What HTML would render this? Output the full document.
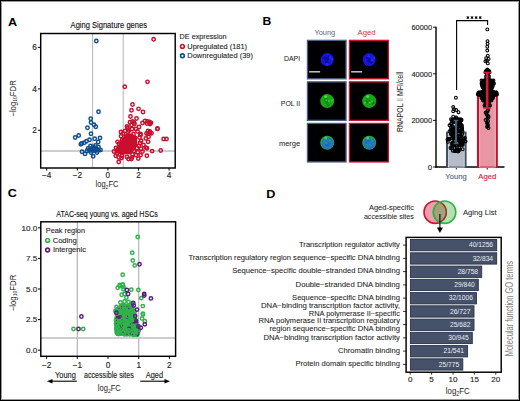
<!DOCTYPE html>
<html><head><meta charset="utf-8"><style>
html,body{margin:0;padding:0;background:#fff;}
body{width:520px;height:401px;overflow:hidden;position:relative;}
svg{position:absolute;left:0;top:0;font-family:"Liberation Sans", sans-serif;}
</style></head><body>
<svg width="520" height="401" viewBox="0 0 520 401">
<defs>
<radialGradient id="gBlue"><stop offset="0" stop-color="#2a3fe0"/><stop offset="0.7" stop-color="#1f2fd8"/><stop offset="1" stop-color="#0a10a0"/></radialGradient>
<radialGradient id="gGreen"><stop offset="0" stop-color="#25b825"/><stop offset="0.75" stop-color="#1fae1f"/><stop offset="1" stop-color="#0c7a0c"/></radialGradient>
<radialGradient id="gMerge"><stop offset="0" stop-color="#2a7fb0"/><stop offset="0.6" stop-color="#3590a0"/><stop offset="1" stop-color="#1a9a40"/></radialGradient>
<filter id="nb" x="-50%" y="-50%" width="200%" height="200%"><feGaussianBlur stdDeviation="0.75"/></filter>
<clipPath id="vclip2"><circle cx="444.6" cy="212.2" r="10.4"/></clipPath>
</defs>
<rect x="0" y="0" width="520" height="401" fill="#fff"/>
<text transform="translate(8.0,26.3) scale(1.15,1)" font-size="11.0" font-weight="bold" fill="#000">A</text>
<text transform="translate(262.4,24.6) scale(1.15,1)" font-size="10.6" font-weight="bold" fill="#000">B</text>
<text transform="translate(7.7,197.4) scale(1.15,1)" font-size="11.0" font-weight="bold" fill="#000">C</text>
<text transform="translate(266.2,198.2) scale(1.15,1)" font-size="11.0" font-weight="bold" fill="#000">D</text>
<text x="108.8" y="28.3" font-size="9.4" text-anchor="middle" fill="#111" font-weight="normal" stroke="#111" stroke-width="0.14" textLength="76.4" lengthAdjust="spacingAndGlyphs">Aging Signature genes</text>
<line x1="92.6" y1="33.5" x2="92.6" y2="168.0" stroke="#b4b4b8" stroke-width="1"/>
<line x1="123.2" y1="33.5" x2="123.2" y2="168.0" stroke="#b4b4b8" stroke-width="1"/>
<line x1="40.7" y1="151.0" x2="175.2" y2="151.0" stroke="#bdbdbd" stroke-width="1.7"/>
<path d="M86,150 L89,147.5 L92.5,144.5 L96,145.5 L99.5,148 L101.5,150.5 L99,152.5 L94,153 L88.5,152.5 Z" fill="#104d8c"/>
<circle cx="96.3" cy="41.0" r="1.7" fill="none" stroke="#104d8c" stroke-width="1.45"/>
<circle cx="98.5" cy="111.7" r="1.7" fill="none" stroke="#104d8c" stroke-width="1.45"/>
<circle cx="90.7" cy="118.7" r="1.7" fill="none" stroke="#104d8c" stroke-width="1.45"/>
<circle cx="91.0" cy="122.5" r="1.7" fill="none" stroke="#104d8c" stroke-width="1.45"/>
<circle cx="94.0" cy="124.7" r="1.7" fill="none" stroke="#104d8c" stroke-width="1.45"/>
<circle cx="95.8" cy="126.7" r="1.7" fill="none" stroke="#104d8c" stroke-width="1.45"/>
<circle cx="87.5" cy="127.7" r="1.7" fill="none" stroke="#104d8c" stroke-width="1.45"/>
<circle cx="91.0" cy="133.7" r="1.7" fill="none" stroke="#104d8c" stroke-width="1.45"/>
<circle cx="78.7" cy="135.5" r="1.7" fill="none" stroke="#104d8c" stroke-width="1.45"/>
<circle cx="75.2" cy="137.5" r="1.7" fill="none" stroke="#104d8c" stroke-width="1.45"/>
<circle cx="94.7" cy="138.7" r="1.7" fill="none" stroke="#104d8c" stroke-width="1.45"/>
<circle cx="100.0" cy="137.9" r="1.7" fill="none" stroke="#104d8c" stroke-width="1.45"/>
<circle cx="89.5" cy="139.7" r="1.7" fill="none" stroke="#104d8c" stroke-width="1.45"/>
<circle cx="86.5" cy="141.2" r="1.7" fill="none" stroke="#104d8c" stroke-width="1.45"/>
<circle cx="84.2" cy="142.7" r="1.7" fill="none" stroke="#104d8c" stroke-width="1.45"/>
<circle cx="81.7" cy="143.4" r="1.7" fill="none" stroke="#104d8c" stroke-width="1.45"/>
<circle cx="80.8" cy="144.2" r="1.7" fill="none" stroke="#104d8c" stroke-width="1.45"/>
<circle cx="98.2" cy="142.0" r="1.7" fill="none" stroke="#104d8c" stroke-width="1.45"/>
<circle cx="82.0" cy="151.7" r="1.7" fill="none" stroke="#104d8c" stroke-width="1.45"/>
<circle cx="85.0" cy="153.9" r="1.7" fill="none" stroke="#104d8c" stroke-width="1.45"/>
<circle cx="93.2" cy="156.2" r="1.7" fill="none" stroke="#104d8c" stroke-width="1.45"/>
<circle cx="88.0" cy="148.5" r="1.7" fill="none" stroke="#104d8c" stroke-width="1.45"/>
<circle cx="90.5" cy="146.0" r="1.7" fill="none" stroke="#104d8c" stroke-width="1.45"/>
<circle cx="95.5" cy="145.5" r="1.7" fill="none" stroke="#104d8c" stroke-width="1.45"/>
<circle cx="98.5" cy="147.0" r="1.7" fill="none" stroke="#104d8c" stroke-width="1.45"/>
<circle cx="100.5" cy="150.0" r="1.7" fill="none" stroke="#104d8c" stroke-width="1.45"/>
<circle cx="97.0" cy="152.5" r="1.7" fill="none" stroke="#104d8c" stroke-width="1.45"/>
<circle cx="91.0" cy="152.5" r="1.7" fill="none" stroke="#104d8c" stroke-width="1.45"/>
<circle cx="87.0" cy="151.0" r="1.7" fill="none" stroke="#104d8c" stroke-width="1.45"/>
<circle cx="93.0" cy="148.5" r="1.7" fill="none" stroke="#104d8c" stroke-width="1.45"/>
<circle cx="95.5" cy="149.5" r="1.7" fill="none" stroke="#104d8c" stroke-width="1.45"/>
<circle cx="89.5" cy="150.0" r="1.7" fill="none" stroke="#104d8c" stroke-width="1.45"/>
<path d="M114,150.5 L117.8,145.5 L121,140 L124.3,135.8 L127.5,133.8 L131.8,134 L135.6,135.3 L137.2,140 L137.2,145 L135,149.5 L132.3,152.6 L128.7,154.2 L125,154.6 L119.3,154.2 L115.3,152.8 Z" fill="#c8102e"/>
<circle cx="153.6" cy="39.2" r="1.7" fill="none" stroke="#c8102e" stroke-width="1.45"/>
<circle cx="147.5" cy="81.8" r="1.7" fill="none" stroke="#c8102e" stroke-width="1.45"/>
<circle cx="124.8" cy="86.7" r="1.7" fill="none" stroke="#c8102e" stroke-width="1.45"/>
<circle cx="132.5" cy="104.5" r="1.7" fill="none" stroke="#c8102e" stroke-width="1.45"/>
<circle cx="138.5" cy="108.8" r="1.7" fill="none" stroke="#c8102e" stroke-width="1.45"/>
<circle cx="131.5" cy="110.2" r="1.7" fill="none" stroke="#c8102e" stroke-width="1.45"/>
<circle cx="143.0" cy="112.0" r="1.7" fill="none" stroke="#c8102e" stroke-width="1.45"/>
<circle cx="130.5" cy="116.5" r="1.7" fill="none" stroke="#c8102e" stroke-width="1.45"/>
<circle cx="136.5" cy="118.5" r="1.7" fill="none" stroke="#c8102e" stroke-width="1.45"/>
<circle cx="130.0" cy="122.2" r="1.7" fill="none" stroke="#c8102e" stroke-width="1.45"/>
<circle cx="132.5" cy="121.5" r="1.7" fill="none" stroke="#c8102e" stroke-width="1.45"/>
<circle cx="134.0" cy="122.5" r="1.7" fill="none" stroke="#c8102e" stroke-width="1.45"/>
<circle cx="131.5" cy="125.0" r="1.7" fill="none" stroke="#c8102e" stroke-width="1.45"/>
<circle cx="134.5" cy="124.0" r="1.7" fill="none" stroke="#c8102e" stroke-width="1.45"/>
<circle cx="142.5" cy="123.0" r="1.7" fill="none" stroke="#c8102e" stroke-width="1.45"/>
<circle cx="145.0" cy="121.0" r="1.7" fill="none" stroke="#c8102e" stroke-width="1.45"/>
<circle cx="147.5" cy="121.5" r="1.7" fill="none" stroke="#c8102e" stroke-width="1.45"/>
<circle cx="149.5" cy="122.0" r="1.7" fill="none" stroke="#c8102e" stroke-width="1.45"/>
<circle cx="151.0" cy="122.8" r="1.7" fill="none" stroke="#c8102e" stroke-width="1.45"/>
<circle cx="150.0" cy="124.0" r="1.7" fill="none" stroke="#c8102e" stroke-width="1.45"/>
<circle cx="147.0" cy="123.5" r="1.7" fill="none" stroke="#c8102e" stroke-width="1.45"/>
<circle cx="127.0" cy="126.5" r="1.7" fill="none" stroke="#c8102e" stroke-width="1.45"/>
<circle cx="127.5" cy="128.0" r="1.7" fill="none" stroke="#c8102e" stroke-width="1.45"/>
<circle cx="132.0" cy="129.0" r="1.7" fill="none" stroke="#c8102e" stroke-width="1.45"/>
<circle cx="136.0" cy="129.0" r="1.7" fill="none" stroke="#c8102e" stroke-width="1.45"/>
<circle cx="139.0" cy="127.0" r="1.7" fill="none" stroke="#c8102e" stroke-width="1.45"/>
<circle cx="157.5" cy="128.5" r="1.7" fill="none" stroke="#c8102e" stroke-width="1.45"/>
<circle cx="121.0" cy="132.0" r="1.7" fill="none" stroke="#c8102e" stroke-width="1.45"/>
<circle cx="128.0" cy="132.0" r="1.7" fill="none" stroke="#c8102e" stroke-width="1.45"/>
<circle cx="140.5" cy="134.0" r="1.7" fill="none" stroke="#c8102e" stroke-width="1.45"/>
<circle cx="148.0" cy="131.0" r="1.7" fill="none" stroke="#c8102e" stroke-width="1.45"/>
<circle cx="150.0" cy="133.0" r="1.7" fill="none" stroke="#c8102e" stroke-width="1.45"/>
<circle cx="146.5" cy="133.5" r="1.7" fill="none" stroke="#c8102e" stroke-width="1.45"/>
<circle cx="133.5" cy="134.0" r="1.7" fill="none" stroke="#c8102e" stroke-width="1.45"/>
<circle cx="121.0" cy="136.1" r="1.7" fill="none" stroke="#c8102e" stroke-width="1.45"/>
<circle cx="117.5" cy="141.8" r="1.7" fill="none" stroke="#c8102e" stroke-width="1.45"/>
<circle cx="140.6" cy="134.9" r="1.7" fill="none" stroke="#c8102e" stroke-width="1.45"/>
<circle cx="145.8" cy="138.4" r="1.7" fill="none" stroke="#c8102e" stroke-width="1.45"/>
<circle cx="148.6" cy="136.7" r="1.7" fill="none" stroke="#c8102e" stroke-width="1.45"/>
<circle cx="148.1" cy="133.8" r="1.7" fill="none" stroke="#c8102e" stroke-width="1.45"/>
<circle cx="149.8" cy="131.5" r="1.7" fill="none" stroke="#c8102e" stroke-width="1.45"/>
<circle cx="151.5" cy="133.2" r="1.7" fill="none" stroke="#c8102e" stroke-width="1.45"/>
<circle cx="157.3" cy="128.9" r="1.7" fill="none" stroke="#c8102e" stroke-width="1.45"/>
<circle cx="163.6" cy="139.0" r="1.7" fill="none" stroke="#c8102e" stroke-width="1.45"/>
<circle cx="166.5" cy="139.0" r="1.7" fill="none" stroke="#c8102e" stroke-width="1.45"/>
<circle cx="148.1" cy="141.8" r="1.7" fill="none" stroke="#c8102e" stroke-width="1.45"/>
<circle cx="141.1" cy="140.7" r="1.7" fill="none" stroke="#c8102e" stroke-width="1.45"/>
<circle cx="138.8" cy="145.9" r="1.7" fill="none" stroke="#c8102e" stroke-width="1.45"/>
<circle cx="141.1" cy="148.8" r="1.7" fill="none" stroke="#c8102e" stroke-width="1.45"/>
<circle cx="145.8" cy="147.6" r="1.7" fill="none" stroke="#c8102e" stroke-width="1.45"/>
<circle cx="146.9" cy="148.2" r="1.7" fill="none" stroke="#c8102e" stroke-width="1.45"/>
<circle cx="152.1" cy="151.1" r="1.7" fill="none" stroke="#c8102e" stroke-width="1.45"/>
<circle cx="160.7" cy="150.5" r="1.7" fill="none" stroke="#c8102e" stroke-width="1.45"/>
<circle cx="137.7" cy="152.2" r="1.7" fill="none" stroke="#c8102e" stroke-width="1.45"/>
<circle cx="132.5" cy="154.5" r="1.7" fill="none" stroke="#c8102e" stroke-width="1.45"/>
<circle cx="136.0" cy="155.1" r="1.7" fill="none" stroke="#c8102e" stroke-width="1.45"/>
<circle cx="140.6" cy="155.1" r="1.7" fill="none" stroke="#c8102e" stroke-width="1.45"/>
<circle cx="146.9" cy="155.7" r="1.7" fill="none" stroke="#c8102e" stroke-width="1.45"/>
<circle cx="138.3" cy="158.6" r="1.7" fill="none" stroke="#c8102e" stroke-width="1.45"/>
<circle cx="131.3" cy="159.1" r="1.7" fill="none" stroke="#c8102e" stroke-width="1.45"/>
<circle cx="118.7" cy="157.4" r="1.7" fill="none" stroke="#c8102e" stroke-width="1.45"/>
<circle cx="115.8" cy="155.7" r="1.7" fill="none" stroke="#c8102e" stroke-width="1.45"/>
<circle cx="121.5" cy="158.0" r="1.7" fill="none" stroke="#c8102e" stroke-width="1.45"/>
<circle cx="118.7" cy="162.0" r="1.7" fill="none" stroke="#c8102e" stroke-width="1.45"/>
<circle cx="125.0" cy="131.0" r="1.7" fill="none" stroke="#c8102e" stroke-width="1.45"/>
<circle cx="129.0" cy="130.5" r="1.7" fill="none" stroke="#c8102e" stroke-width="1.45"/>
<circle cx="123.0" cy="133.5" r="1.7" fill="none" stroke="#c8102e" stroke-width="1.45"/>
<circle cx="137.5" cy="131.5" r="1.7" fill="none" stroke="#c8102e" stroke-width="1.45"/>
<circle cx="139.5" cy="137.5" r="1.7" fill="none" stroke="#c8102e" stroke-width="1.45"/>
<circle cx="140.0" cy="143.0" r="1.7" fill="none" stroke="#c8102e" stroke-width="1.45"/>
<circle cx="135.0" cy="138.0" r="1.7" fill="none" stroke="#c8102e" stroke-width="1.45"/>
<circle cx="131.0" cy="136.0" r="1.7" fill="none" stroke="#c8102e" stroke-width="1.45"/>
<circle cx="126.0" cy="136.5" r="1.7" fill="none" stroke="#c8102e" stroke-width="1.45"/>
<circle cx="122.0" cy="140.0" r="1.7" fill="none" stroke="#c8102e" stroke-width="1.45"/>
<circle cx="119.0" cy="144.0" r="1.7" fill="none" stroke="#c8102e" stroke-width="1.45"/>
<circle cx="116.0" cy="148.0" r="1.7" fill="none" stroke="#c8102e" stroke-width="1.45"/>
<circle cx="114.0" cy="151.5" r="1.7" fill="none" stroke="#c8102e" stroke-width="1.45"/>
<circle cx="117.0" cy="153.5" r="1.7" fill="none" stroke="#c8102e" stroke-width="1.45"/>
<circle cx="122.0" cy="156.0" r="1.7" fill="none" stroke="#c8102e" stroke-width="1.45"/>
<circle cx="127.0" cy="157.0" r="1.7" fill="none" stroke="#c8102e" stroke-width="1.45"/>
<circle cx="134.0" cy="151.0" r="1.7" fill="none" stroke="#c8102e" stroke-width="1.45"/>
<circle cx="137.0" cy="148.0" r="1.7" fill="none" stroke="#c8102e" stroke-width="1.45"/>
<circle cx="129.0" cy="152.0" r="1.7" fill="none" stroke="#c8102e" stroke-width="1.45"/>
<circle cx="124.0" cy="150.0" r="1.7" fill="none" stroke="#c8102e" stroke-width="1.45"/>
<circle cx="120.0" cy="148.0" r="1.7" fill="none" stroke="#c8102e" stroke-width="1.45"/>
<circle cx="125.0" cy="145.0" r="1.7" fill="none" stroke="#c8102e" stroke-width="1.45"/>
<circle cx="130.0" cy="147.0" r="1.7" fill="none" stroke="#c8102e" stroke-width="1.45"/>
<circle cx="134.0" cy="143.0" r="1.7" fill="none" stroke="#c8102e" stroke-width="1.45"/>
<circle cx="131.0" cy="141.0" r="1.7" fill="none" stroke="#c8102e" stroke-width="1.45"/>
<circle cx="127.0" cy="141.0" r="1.7" fill="none" stroke="#c8102e" stroke-width="1.45"/>
<circle cx="123.0" cy="144.5" r="1.7" fill="none" stroke="#c8102e" stroke-width="1.45"/>
<circle cx="118.5" cy="150.5" r="1.7" fill="none" stroke="#c8102e" stroke-width="1.45"/>
<circle cx="132.0" cy="157.5" r="1.7" fill="none" stroke="#c8102e" stroke-width="1.45"/>
<circle cx="128.5" cy="159.0" r="1.7" fill="none" stroke="#c8102e" stroke-width="1.45"/>
<circle cx="143.5" cy="145.0" r="1.7" fill="none" stroke="#c8102e" stroke-width="1.45"/>
<circle cx="142.5" cy="151.5" r="1.7" fill="none" stroke="#c8102e" stroke-width="1.45"/>
<rect x="40.7" y="33.5" width="134.5" height="134.5" fill="none" stroke="#000" stroke-width="1.45"/>
<line x1="37.900000000000006" y1="130.3" x2="40.7" y2="130.3" stroke="#000" stroke-width="1"/>
<text x="36.9" y="133.31" font-size="8.3" text-anchor="end" fill="#222" font-weight="normal" stroke="#222" stroke-width="0.14">2</text>
<line x1="37.900000000000006" y1="88.9" x2="40.7" y2="88.9" stroke="#000" stroke-width="1"/>
<text x="36.9" y="91.87" font-size="8.3" text-anchor="end" fill="#222" font-weight="normal" stroke="#222" stroke-width="0.14">4</text>
<line x1="37.900000000000006" y1="47.4" x2="40.7" y2="47.4" stroke="#000" stroke-width="1"/>
<text x="36.9" y="50.43000000000001" font-size="8.3" text-anchor="end" fill="#222" font-weight="normal" stroke="#222" stroke-width="0.14">6</text>
<line x1="46.7" y1="168.0" x2="46.7" y2="170.6" stroke="#000" stroke-width="1"/>
<text x="46.7" y="178.4" font-size="8.2" text-anchor="middle" fill="#222" font-weight="normal" stroke="#222" stroke-width="0.14">−4</text>
<line x1="77.3" y1="168.0" x2="77.3" y2="170.6" stroke="#000" stroke-width="1"/>
<text x="77.30000000000001" y="178.4" font-size="8.2" text-anchor="middle" fill="#222" font-weight="normal" stroke="#222" stroke-width="0.14">−2</text>
<line x1="107.9" y1="168.0" x2="107.9" y2="170.6" stroke="#000" stroke-width="1"/>
<text x="107.9" y="178.4" font-size="8.2" text-anchor="middle" fill="#222" font-weight="normal" stroke="#222" stroke-width="0.14">0</text>
<line x1="138.5" y1="168.0" x2="138.5" y2="170.6" stroke="#000" stroke-width="1"/>
<text x="138.5" y="178.4" font-size="8.2" text-anchor="middle" fill="#222" font-weight="normal" stroke="#222" stroke-width="0.14">2</text>
<line x1="169.1" y1="168.0" x2="169.1" y2="170.6" stroke="#000" stroke-width="1"/>
<text x="169.10000000000002" y="178.4" font-size="8.2" text-anchor="middle" fill="#222" font-weight="normal" stroke="#222" stroke-width="0.14">4</text>
<text transform="translate(107.0,187.4) scale(0.84,1)" x="0" y="0" font-size="9.0" text-anchor="middle" fill="#222">log<tspan font-size="6.12" dy="1.98">2</tspan><tspan dy="-1.98">FC</tspan></text>
<text transform="translate(15.7,98.4) rotate(-90) scale(0.91,1)" font-size="8.6" text-anchor="middle" fill="#222">−log<tspan font-size="5.4" dy="0.8">10</tspan><tspan dy="-0.8">FDR</tspan></text>
<text x="179.6" y="38.6" font-size="7.5" text-anchor="start" fill="#222" font-weight="normal" stroke="#222" stroke-width="0.1" textLength="47" lengthAdjust="spacingAndGlyphs">DE expression</text>
<circle cx="182.4" cy="46.4" r="1.9" fill="none" stroke="#c8102e" stroke-width="1.6"/>
<text x="187.3" y="48.6" font-size="7.5" text-anchor="start" fill="#222" font-weight="normal" stroke="#222" stroke-width="0.1" textLength="59.7" lengthAdjust="spacingAndGlyphs">Upregulated (181)</text>
<circle cx="182.4" cy="55.8" r="1.9" fill="none" stroke="#104d8c" stroke-width="1.6"/>
<text x="187.3" y="58.2" font-size="7.5" text-anchor="start" fill="#222" font-weight="normal" stroke="#222" stroke-width="0.1" textLength="65.7" lengthAdjust="spacingAndGlyphs">Downregulated (39)</text>
<text x="324.8" y="35" font-size="7.8" text-anchor="middle" fill="#5d6b82" font-weight="normal" stroke="#5d6b82" stroke-width="0.04" textLength="20.8" lengthAdjust="spacingAndGlyphs">Young</text>
<text x="366.6" y="35" font-size="7.8" text-anchor="middle" fill="#e03344" font-weight="normal" stroke="#e03344" stroke-width="0.04" textLength="18" lengthAdjust="spacingAndGlyphs">Aged</text>
<text x="300.2" y="61.1" font-size="7.6" text-anchor="end" fill="#222" font-weight="normal" stroke="#222" stroke-width="0.04" textLength="16.3" lengthAdjust="spacingAndGlyphs">DAPI</text>
<rect x="307.45" y="40.35" width="38.6" height="38.5" fill="#000" stroke="#4a6184" stroke-width="1.3"/>
<g filter="url(#nb)"><circle cx="327.2" cy="59.6" r="6.5" fill="#1616d6"/>
<circle cx="328.7" cy="57.4" r="1.6" fill="#0c0c9a" opacity="0.8"/>
<circle cx="327.1" cy="61.4" r="1.6" fill="#0c0c9a" opacity="0.8"/>
<circle cx="327.4" cy="58.6" r="1.7" fill="#0c0c9a" opacity="0.8"/>
<circle cx="324.4" cy="58.0" r="1.7" fill="#0c0c9a" opacity="0.8"/>
<circle cx="326.7" cy="62.2" r="1.8" fill="#0c0c9a" opacity="0.8"/>
<circle cx="327.2" cy="64.4" r="1.3" fill="#2a2aff" opacity="0.9"/>
<circle cx="331.8" cy="59.1" r="1.3" fill="#2a2aff" opacity="0.9"/>
<circle cx="330.2" cy="57.5" r="1.3" fill="#2a2aff" opacity="0.9"/>
</g>
<line x1="309.2" y1="71.80000000000001" x2="320.1" y2="71.80000000000001" stroke="#d4d4d4" stroke-width="1.4"/>
<rect x="349.45" y="40.35" width="38.9" height="38.5" fill="#000" stroke="#d0122f" stroke-width="1.3"/>
<g filter="url(#nb)"><circle cx="369.2" cy="59.6" r="6.5" fill="#1616d6"/>
<circle cx="371.2" cy="61.8" r="2.0" fill="#0c0c9a" opacity="0.8"/>
<circle cx="369.1" cy="61.3" r="1.6" fill="#0c0c9a" opacity="0.8"/>
<circle cx="367.6" cy="57.4" r="1.3" fill="#0c0c9a" opacity="0.8"/>
<circle cx="372.1" cy="60.1" r="1.6" fill="#0c0c9a" opacity="0.8"/>
<circle cx="369.2" cy="59.6" r="1.6" fill="#0c0c9a" opacity="0.8"/>
<circle cx="368.6" cy="56.2" r="1.3" fill="#2a2aff" opacity="0.9"/>
<circle cx="373.7" cy="58.0" r="1.3" fill="#2a2aff" opacity="0.9"/>
<circle cx="372.2" cy="60.2" r="1.3" fill="#2a2aff" opacity="0.9"/>
</g>
<line x1="351.2" y1="71.80000000000001" x2="362.1" y2="71.80000000000001" stroke="#d4d4d4" stroke-width="1.4"/>
<text x="300.2" y="105.7" font-size="7.6" text-anchor="end" fill="#222" font-weight="normal" stroke="#222" stroke-width="0.04" textLength="19.4" lengthAdjust="spacingAndGlyphs">POL II</text>
<rect x="307.45" y="81.85" width="38.6" height="38.5" fill="#000" stroke="#4a6184" stroke-width="1.3"/>
<g filter="url(#nb)"><circle cx="327.2" cy="101.1" r="7" fill="#1aa61a"/>
<circle cx="325.3" cy="100.2" r="1.4" fill="#0f780f" opacity="0.6"/>
<circle cx="328.3" cy="105.0" r="1.6" fill="#0f780f" opacity="0.6"/>
<circle cx="326.7" cy="100.4" r="1.3" fill="#0f780f" opacity="0.6"/>
<circle cx="326.6" cy="102.2" r="1.7" fill="#0f780f" opacity="0.6"/>
<circle cx="327.4" cy="101.1" r="1.6" fill="#0f780f" opacity="0.6"/>
<circle cx="325.7" cy="100.0" r="1.1" fill="#0f780f" opacity="0.6"/>
<circle cx="326.2" cy="99.1" r="1.4" fill="#0f780f" opacity="0.6"/>
<circle cx="326.8" cy="100.5" r="1.5" fill="#0f780f" opacity="0.6"/>
<circle cx="332.0" cy="100.5" r="1.1" fill="#3fd83f" opacity="0.8"/>
<circle cx="326.3" cy="100.3" r="1.1" fill="#3fd83f" opacity="0.8"/>
<circle cx="328.7" cy="101.1" r="1.1" fill="#3fd83f" opacity="0.8"/>
<circle cx="325.7" cy="96.6" r="1.4" fill="#45ea45"/>
</g>
<rect x="349.45" y="81.85" width="38.9" height="38.5" fill="#000" stroke="#d0122f" stroke-width="1.3"/>
<g filter="url(#nb)"><circle cx="369.2" cy="101.1" r="7" fill="#1aa61a"/>
<circle cx="366.5" cy="101.9" r="1.6" fill="#0f780f" opacity="0.6"/>
<circle cx="366.7" cy="101.6" r="1.4" fill="#0f780f" opacity="0.6"/>
<circle cx="370.2" cy="103.4" r="1.4" fill="#0f780f" opacity="0.6"/>
<circle cx="369.3" cy="100.6" r="1.1" fill="#0f780f" opacity="0.6"/>
<circle cx="372.6" cy="103.3" r="1.5" fill="#0f780f" opacity="0.6"/>
<circle cx="373.9" cy="102.4" r="1.7" fill="#0f780f" opacity="0.6"/>
<circle cx="367.4" cy="98.6" r="1.0" fill="#0f780f" opacity="0.6"/>
<circle cx="371.8" cy="101.3" r="0.9" fill="#0f780f" opacity="0.6"/>
<circle cx="369.9" cy="102.9" r="1.1" fill="#3fd83f" opacity="0.8"/>
<circle cx="372.0" cy="101.6" r="1.1" fill="#3fd83f" opacity="0.8"/>
<circle cx="365.1" cy="102.7" r="1.1" fill="#3fd83f" opacity="0.8"/>
<circle cx="367.7" cy="96.6" r="1.4" fill="#45ea45"/>
</g>
<text x="300.2" y="145.6" font-size="7.6" text-anchor="end" fill="#222" font-weight="normal" stroke="#222" stroke-width="0.04" textLength="21.3" lengthAdjust="spacingAndGlyphs">merge</text>
<rect x="307.45" y="123.45" width="38.6" height="38.5" fill="#000" stroke="#4a6184" stroke-width="1.3"/>
<g filter="url(#nb)"><circle cx="327.2" cy="142.7" r="7" fill="#22a848"/><circle cx="327.5" cy="143.2" r="6.1" fill="#2378b8"/>
<circle cx="329.8" cy="141.0" r="1.3" fill="#2a9a7a" opacity="0.75"/>
<circle cx="327.0" cy="145.6" r="1.4" fill="#1d5fd0" opacity="0.75"/>
<circle cx="326.5" cy="142.4" r="1.1" fill="#2a9a7a" opacity="0.75"/>
<circle cx="328.3" cy="143.6" r="1.5" fill="#1d5fd0" opacity="0.75"/>
<circle cx="326.4" cy="143.2" r="1.2" fill="#2fa060" opacity="0.75"/>
<circle cx="326.2" cy="144.4" r="1.2" fill="#1d5fd0" opacity="0.75"/>
<circle cx="326.4" cy="143.2" r="1.0" fill="#2a9a7a" opacity="0.75"/>
<circle cx="325.7" cy="137.89999999999998" r="1.5" fill="#3ccc3c"/>
</g>
<rect x="349.45" y="123.45" width="38.9" height="38.5" fill="#000" stroke="#d0122f" stroke-width="1.3"/>
<g filter="url(#nb)"><circle cx="369.2" cy="142.7" r="7" fill="#22a848"/><circle cx="369.5" cy="143.2" r="6.1" fill="#2378b8"/>
<circle cx="370.8" cy="145.4" r="1.2" fill="#1d5fd0" opacity="0.75"/>
<circle cx="371.7" cy="139.0" r="1.1" fill="#2fa060" opacity="0.75"/>
<circle cx="370.2" cy="144.9" r="1.4" fill="#2a9a7a" opacity="0.75"/>
<circle cx="367.4" cy="144.6" r="0.8" fill="#2a9a7a" opacity="0.75"/>
<circle cx="371.9" cy="141.2" r="1.1" fill="#2fa060" opacity="0.75"/>
<circle cx="369.4" cy="140.9" r="1.1" fill="#1d5fd0" opacity="0.75"/>
<circle cx="366.2" cy="141.9" r="1.3" fill="#1d5fd0" opacity="0.75"/>
<circle cx="367.7" cy="137.89999999999998" r="1.5" fill="#3ccc3c"/>
</g>
<line x1="436.0" y1="26.7" x2="436.0" y2="167.6" stroke="#000" stroke-width="1.4"/>
<line x1="435.3" y1="167.0" x2="504.5" y2="167.0" stroke="#000" stroke-width="1.4"/>
<line x1="433.0" y1="167.0" x2="436.0" y2="167.0" stroke="#000" stroke-width="0.9"/>
<text x="432.1" y="169.8" font-size="7.9" text-anchor="end" fill="#222" font-weight="normal" stroke="#222" stroke-width="0.14">0</text>
<line x1="433.0" y1="120.4" x2="436.0" y2="120.4" stroke="#000" stroke-width="0.9"/>
<text x="432.1" y="123.2" font-size="7.9" text-anchor="end" fill="#222" font-weight="normal" stroke="#222" stroke-width="0.14" textLength="20.6" lengthAdjust="spacingAndGlyphs">20000</text>
<line x1="433.0" y1="73.8" x2="436.0" y2="73.8" stroke="#000" stroke-width="0.9"/>
<text x="432.1" y="76.6" font-size="7.9" text-anchor="end" fill="#222" font-weight="normal" stroke="#222" stroke-width="0.14" textLength="20.6" lengthAdjust="spacingAndGlyphs">40000</text>
<line x1="433.0" y1="27.2" x2="436.0" y2="27.2" stroke="#000" stroke-width="0.9"/>
<text x="432.1" y="29.99999999999999" font-size="7.9" text-anchor="end" fill="#222" font-weight="normal" stroke="#222" stroke-width="0.14" textLength="20.6" lengthAdjust="spacingAndGlyphs">60000</text>
<line x1="456.3" y1="167.0" x2="456.3" y2="169.5" stroke="#000" stroke-width="0.9"/>
<line x1="487.3" y1="167.0" x2="487.3" y2="169.5" stroke="#000" stroke-width="0.9"/>
<text transform="translate(403.2,101.9) rotate(-90)" font-size="9.2" text-anchor="middle" fill="#222" textLength="60.4" lengthAdjust="spacingAndGlyphs">RNAPOL <tspan fill="#999">II</tspan> MFI/cell</text>
<text x="456" y="179" font-size="7.8" text-anchor="middle" fill="#55657d" font-weight="normal" stroke="#55657d" stroke-width="0.14" textLength="21.3" lengthAdjust="spacingAndGlyphs">Young</text>
<text x="487.3" y="179" font-size="7.8" text-anchor="middle" fill="#d0223a" font-weight="normal" stroke="#d0223a" stroke-width="0.14" textLength="18" lengthAdjust="spacingAndGlyphs">Aged</text>
<rect x="447" y="132.6" width="18.6" height="34.4" fill="#b5bcc7" stroke="#3f4f66" stroke-width="2"/>
<rect x="448.5" y="134.1" width="15.6" height="32.9" fill="none" stroke="#c9cfd8" stroke-width="1"/>
<rect x="478" y="92" width="18.8" height="75.0" fill="#e797a4" stroke="#c8102e" stroke-width="2.1"/>
<rect x="479.6" y="93.6" width="15.6" height="73.4" fill="none" stroke="#f0b5bf" stroke-width="1"/>
<polyline points="456.6,90 456.6,20.6 487.6,20.6 487.6,25" fill="none" stroke="#000" stroke-width="1.1"/>
<line x1="467.90" y1="16.15" x2="467.90" y2="19.05" stroke="#000" stroke-width="1.0"/>
<line x1="466.64" y1="16.88" x2="469.16" y2="18.33" stroke="#000" stroke-width="1.0"/>
<line x1="469.16" y1="16.88" x2="466.64" y2="18.33" stroke="#000" stroke-width="1.0"/>
<line x1="472.00" y1="16.15" x2="472.00" y2="19.05" stroke="#000" stroke-width="1.0"/>
<line x1="470.74" y1="16.88" x2="473.26" y2="18.33" stroke="#000" stroke-width="1.0"/>
<line x1="473.26" y1="16.88" x2="470.74" y2="18.33" stroke="#000" stroke-width="1.0"/>
<line x1="476.10" y1="16.15" x2="476.10" y2="19.05" stroke="#000" stroke-width="1.0"/>
<line x1="474.84" y1="16.88" x2="477.36" y2="18.33" stroke="#000" stroke-width="1.0"/>
<line x1="477.36" y1="16.88" x2="474.84" y2="18.33" stroke="#000" stroke-width="1.0"/>
<line x1="480.20" y1="16.15" x2="480.20" y2="19.05" stroke="#000" stroke-width="1.0"/>
<line x1="478.94" y1="16.88" x2="481.46" y2="18.33" stroke="#000" stroke-width="1.0"/>
<line x1="481.46" y1="16.88" x2="478.94" y2="18.33" stroke="#000" stroke-width="1.0"/>
<circle cx="455.9" cy="97.7" r="1.4" fill="none" stroke="#000" stroke-width="1.1"/>
<circle cx="453.2" cy="107.0" r="1.4" fill="none" stroke="#000" stroke-width="1.1"/>
<circle cx="454.0" cy="109.2" r="1.4" fill="none" stroke="#000" stroke-width="1.1"/>
<circle cx="453.2" cy="111.2" r="1.4" fill="none" stroke="#000" stroke-width="1.1"/>
<circle cx="456.2" cy="110.0" r="1.4" fill="none" stroke="#000" stroke-width="1.1"/>
<circle cx="458.5" cy="112.2" r="1.4" fill="none" stroke="#000" stroke-width="1.1"/>
<circle cx="453.2" cy="116.7" r="1.4" fill="none" stroke="#000" stroke-width="1.1"/>
<circle cx="456.2" cy="117.5" r="1.4" fill="none" stroke="#000" stroke-width="1.1"/>
<circle cx="461.5" cy="119.7" r="1.4" fill="none" stroke="#000" stroke-width="1.1"/>
<circle cx="460.8" cy="139.2" r="1.4" fill="none" stroke="#000" stroke-width="1.1"/>
<circle cx="462.8" cy="144.8" r="1.4" fill="none" stroke="#000" stroke-width="1.1"/>
<circle cx="462.5" cy="143.0" r="1.4" fill="none" stroke="#000" stroke-width="1.1"/>
<circle cx="455.9" cy="119.9" r="1.4" fill="none" stroke="#000" stroke-width="1.1"/>
<circle cx="458.9" cy="149.7" r="1.4" fill="none" stroke="#000" stroke-width="1.1"/>
<circle cx="452.0" cy="148.3" r="1.4" fill="none" stroke="#000" stroke-width="1.1"/>
<circle cx="451.4" cy="134.2" r="1.4" fill="none" stroke="#000" stroke-width="1.1"/>
<circle cx="457.6" cy="136.7" r="1.4" fill="none" stroke="#000" stroke-width="1.1"/>
<circle cx="453.0" cy="119.4" r="1.4" fill="none" stroke="#000" stroke-width="1.1"/>
<circle cx="461.6" cy="128.1" r="1.4" fill="none" stroke="#000" stroke-width="1.1"/>
<circle cx="452.6" cy="143.9" r="1.4" fill="none" stroke="#000" stroke-width="1.1"/>
<circle cx="452.3" cy="144.9" r="1.4" fill="none" stroke="#000" stroke-width="1.1"/>
<circle cx="449.1" cy="139.1" r="1.4" fill="none" stroke="#000" stroke-width="1.1"/>
<circle cx="460.5" cy="119.1" r="1.4" fill="none" stroke="#000" stroke-width="1.1"/>
<circle cx="452.0" cy="125.8" r="1.4" fill="none" stroke="#000" stroke-width="1.1"/>
<circle cx="458.2" cy="150.9" r="1.4" fill="none" stroke="#000" stroke-width="1.1"/>
<circle cx="462.2" cy="128.4" r="1.4" fill="none" stroke="#000" stroke-width="1.1"/>
<circle cx="459.6" cy="136.5" r="1.4" fill="none" stroke="#000" stroke-width="1.1"/>
<circle cx="461.9" cy="125.7" r="1.4" fill="none" stroke="#000" stroke-width="1.1"/>
<circle cx="465.1" cy="141.4" r="1.4" fill="none" stroke="#000" stroke-width="1.1"/>
<circle cx="454.4" cy="148.0" r="1.4" fill="none" stroke="#000" stroke-width="1.1"/>
<circle cx="451.3" cy="130.7" r="1.4" fill="none" stroke="#000" stroke-width="1.1"/>
<circle cx="451.2" cy="123.7" r="1.4" fill="none" stroke="#000" stroke-width="1.1"/>
<circle cx="457.3" cy="128.8" r="1.4" fill="none" stroke="#000" stroke-width="1.1"/>
<circle cx="458.3" cy="119.1" r="1.4" fill="none" stroke="#000" stroke-width="1.1"/>
<circle cx="453.2" cy="130.0" r="1.4" fill="none" stroke="#000" stroke-width="1.1"/>
<circle cx="456.7" cy="145.6" r="1.4" fill="none" stroke="#000" stroke-width="1.1"/>
<circle cx="455.6" cy="129.3" r="1.4" fill="none" stroke="#000" stroke-width="1.1"/>
<circle cx="447.8" cy="141.9" r="1.4" fill="none" stroke="#000" stroke-width="1.1"/>
<circle cx="452.8" cy="150.7" r="1.4" fill="none" stroke="#000" stroke-width="1.1"/>
<circle cx="461.5" cy="143.4" r="1.4" fill="none" stroke="#000" stroke-width="1.1"/>
<circle cx="459.6" cy="119.6" r="1.4" fill="none" stroke="#000" stroke-width="1.1"/>
<circle cx="456.9" cy="130.9" r="1.4" fill="none" stroke="#000" stroke-width="1.1"/>
<circle cx="451.0" cy="119.3" r="1.4" fill="none" stroke="#000" stroke-width="1.1"/>
<circle cx="461.5" cy="124.9" r="1.4" fill="none" stroke="#000" stroke-width="1.1"/>
<circle cx="459.4" cy="125.4" r="1.4" fill="none" stroke="#000" stroke-width="1.1"/>
<circle cx="462.7" cy="149.2" r="1.4" fill="none" stroke="#000" stroke-width="1.1"/>
<circle cx="453.9" cy="130.2" r="1.4" fill="none" stroke="#000" stroke-width="1.1"/>
<circle cx="461.4" cy="136.1" r="1.4" fill="none" stroke="#000" stroke-width="1.1"/>
<circle cx="459.1" cy="122.5" r="1.4" fill="none" stroke="#000" stroke-width="1.1"/>
<circle cx="461.7" cy="144.9" r="1.4" fill="none" stroke="#000" stroke-width="1.1"/>
<circle cx="461.4" cy="120.2" r="1.4" fill="none" stroke="#000" stroke-width="1.1"/>
<circle cx="454.4" cy="122.0" r="1.4" fill="none" stroke="#000" stroke-width="1.1"/>
<circle cx="464.1" cy="138.9" r="1.4" fill="none" stroke="#000" stroke-width="1.1"/>
<circle cx="461.7" cy="130.0" r="1.4" fill="none" stroke="#000" stroke-width="1.1"/>
<circle cx="452.6" cy="136.7" r="1.4" fill="none" stroke="#000" stroke-width="1.1"/>
<circle cx="451.4" cy="129.3" r="1.4" fill="none" stroke="#000" stroke-width="1.1"/>
<circle cx="452.2" cy="121.5" r="1.4" fill="none" stroke="#000" stroke-width="1.1"/>
<circle cx="465.6" cy="141.4" r="1.4" fill="none" stroke="#000" stroke-width="1.1"/>
<circle cx="451.1" cy="124.2" r="1.4" fill="none" stroke="#000" stroke-width="1.1"/>
<circle cx="456.1" cy="151.1" r="1.4" fill="none" stroke="#000" stroke-width="1.1"/>
<circle cx="452.3" cy="132.2" r="1.4" fill="none" stroke="#000" stroke-width="1.1"/>
<circle cx="462.4" cy="138.3" r="1.4" fill="none" stroke="#000" stroke-width="1.1"/>
<circle cx="454.7" cy="133.8" r="1.4" fill="none" stroke="#000" stroke-width="1.1"/>
<circle cx="461.0" cy="120.8" r="1.4" fill="none" stroke="#000" stroke-width="1.1"/>
<circle cx="456.2" cy="120.1" r="1.4" fill="none" stroke="#000" stroke-width="1.1"/>
<circle cx="452.2" cy="146.2" r="1.4" fill="none" stroke="#000" stroke-width="1.1"/>
<circle cx="462.8" cy="142.8" r="1.4" fill="none" stroke="#000" stroke-width="1.1"/>
<circle cx="461.7" cy="139.5" r="1.4" fill="none" stroke="#000" stroke-width="1.1"/>
<circle cx="455.5" cy="122.5" r="1.4" fill="none" stroke="#000" stroke-width="1.1"/>
<circle cx="460.2" cy="123.9" r="1.4" fill="none" stroke="#000" stroke-width="1.1"/>
<circle cx="455.2" cy="128.6" r="1.4" fill="none" stroke="#000" stroke-width="1.1"/>
<circle cx="458.1" cy="151.5" r="1.4" fill="none" stroke="#000" stroke-width="1.1"/>
<circle cx="455.6" cy="150.7" r="1.4" fill="none" stroke="#000" stroke-width="1.1"/>
<circle cx="460.6" cy="134.9" r="1.4" fill="none" stroke="#000" stroke-width="1.1"/>
<circle cx="452.2" cy="134.6" r="1.4" fill="none" stroke="#000" stroke-width="1.1"/>
<circle cx="451.0" cy="132.1" r="1.4" fill="none" stroke="#000" stroke-width="1.1"/>
<circle cx="462.5" cy="131.3" r="1.4" fill="none" stroke="#000" stroke-width="1.1"/>
<circle cx="456.6" cy="150.2" r="1.4" fill="none" stroke="#000" stroke-width="1.1"/>
<circle cx="453.1" cy="135.2" r="1.4" fill="none" stroke="#000" stroke-width="1.1"/>
<circle cx="453.6" cy="121.9" r="1.4" fill="none" stroke="#000" stroke-width="1.1"/>
<circle cx="461.8" cy="144.4" r="1.4" fill="none" stroke="#000" stroke-width="1.1"/>
<circle cx="459.8" cy="130.7" r="1.4" fill="none" stroke="#000" stroke-width="1.1"/>
<circle cx="459.5" cy="144.2" r="1.4" fill="none" stroke="#000" stroke-width="1.1"/>
<circle cx="461.1" cy="140.6" r="1.4" fill="none" stroke="#000" stroke-width="1.1"/>
<circle cx="458.7" cy="130.8" r="1.4" fill="none" stroke="#000" stroke-width="1.1"/>
<circle cx="455.7" cy="128.1" r="1.4" fill="none" stroke="#000" stroke-width="1.1"/>
<circle cx="459.5" cy="144.0" r="1.4" fill="none" stroke="#000" stroke-width="1.1"/>
<circle cx="462.0" cy="128.6" r="1.4" fill="none" stroke="#000" stroke-width="1.1"/>
<circle cx="457.7" cy="140.1" r="1.4" fill="none" stroke="#000" stroke-width="1.1"/>
<circle cx="456.8" cy="119.4" r="1.4" fill="none" stroke="#000" stroke-width="1.1"/>
<circle cx="458.2" cy="127.1" r="1.4" fill="none" stroke="#000" stroke-width="1.1"/>
<circle cx="462.2" cy="134.0" r="1.4" fill="none" stroke="#000" stroke-width="1.1"/>
<circle cx="461.9" cy="140.0" r="1.4" fill="none" stroke="#000" stroke-width="1.1"/>
<circle cx="457.8" cy="130.3" r="1.4" fill="none" stroke="#000" stroke-width="1.1"/>
<circle cx="461.3" cy="143.0" r="1.4" fill="none" stroke="#000" stroke-width="1.1"/>
<circle cx="460.5" cy="130.4" r="1.4" fill="none" stroke="#000" stroke-width="1.1"/>
<circle cx="459.4" cy="147.3" r="1.4" fill="none" stroke="#000" stroke-width="1.1"/>
<circle cx="458.7" cy="150.7" r="1.4" fill="none" stroke="#000" stroke-width="1.1"/>
<circle cx="456.8" cy="135.8" r="1.4" fill="none" stroke="#000" stroke-width="1.1"/>
<circle cx="460.1" cy="124.4" r="1.4" fill="none" stroke="#000" stroke-width="1.1"/>
<circle cx="456.7" cy="149.5" r="1.4" fill="none" stroke="#000" stroke-width="1.1"/>
<circle cx="460.4" cy="141.5" r="1.4" fill="none" stroke="#000" stroke-width="1.1"/>
<circle cx="452.7" cy="142.7" r="1.4" fill="none" stroke="#000" stroke-width="1.1"/>
<circle cx="458.1" cy="144.4" r="1.4" fill="none" stroke="#000" stroke-width="1.1"/>
<circle cx="454.7" cy="140.6" r="1.4" fill="none" stroke="#000" stroke-width="1.1"/>
<circle cx="461.4" cy="139.3" r="1.4" fill="none" stroke="#000" stroke-width="1.1"/>
<circle cx="460.4" cy="139.7" r="1.4" fill="none" stroke="#000" stroke-width="1.1"/>
<circle cx="452.3" cy="119.9" r="1.4" fill="none" stroke="#000" stroke-width="1.1"/>
<circle cx="459.1" cy="133.3" r="1.4" fill="none" stroke="#000" stroke-width="1.1"/>
<circle cx="458.4" cy="126.1" r="1.4" fill="none" stroke="#000" stroke-width="1.1"/>
<circle cx="447.5" cy="139.5" r="1.4" fill="none" stroke="#000" stroke-width="1.1"/>
<circle cx="451.0" cy="134.3" r="1.4" fill="none" stroke="#000" stroke-width="1.1"/>
<circle cx="452.0" cy="120.8" r="1.4" fill="none" stroke="#000" stroke-width="1.1"/>
<circle cx="451.5" cy="129.3" r="1.4" fill="none" stroke="#000" stroke-width="1.1"/>
<circle cx="449.5" cy="125.3" r="1.4" fill="none" stroke="#000" stroke-width="1.1"/>
<circle cx="453.9" cy="134.1" r="1.4" fill="none" stroke="#000" stroke-width="1.1"/>
<circle cx="457.9" cy="138.9" r="1.4" fill="none" stroke="#000" stroke-width="1.1"/>
<circle cx="461.4" cy="126.7" r="1.4" fill="none" stroke="#000" stroke-width="1.1"/>
<circle cx="455.2" cy="119.0" r="1.4" fill="none" stroke="#000" stroke-width="1.1"/>
<circle cx="454.6" cy="128.1" r="1.4" fill="none" stroke="#000" stroke-width="1.1"/>
<circle cx="460.1" cy="122.7" r="1.4" fill="none" stroke="#000" stroke-width="1.1"/>
<circle cx="449.5" cy="131.2" r="1.4" fill="none" stroke="#000" stroke-width="1.1"/>
<circle cx="448.5" cy="138.9" r="1.4" fill="none" stroke="#000" stroke-width="1.1"/>
<circle cx="453.1" cy="136.7" r="1.4" fill="none" stroke="#000" stroke-width="1.1"/>
<circle cx="464.9" cy="137.9" r="1.4" fill="none" stroke="#000" stroke-width="1.1"/>
<circle cx="455.9" cy="145.6" r="1.4" fill="none" stroke="#000" stroke-width="1.1"/>
<circle cx="458.8" cy="145.4" r="1.4" fill="none" stroke="#000" stroke-width="1.1"/>
<circle cx="450.9" cy="131.0" r="1.4" fill="none" stroke="#000" stroke-width="1.1"/>
<circle cx="457.4" cy="138.4" r="1.4" fill="none" stroke="#000" stroke-width="1.1"/>
<circle cx="458.8" cy="150.1" r="1.4" fill="none" stroke="#000" stroke-width="1.1"/>
<circle cx="453.4" cy="138.8" r="1.4" fill="none" stroke="#000" stroke-width="1.1"/>
<circle cx="450.5" cy="148.0" r="1.4" fill="none" stroke="#000" stroke-width="1.1"/>
<circle cx="457.0" cy="122.5" r="1.4" fill="none" stroke="#000" stroke-width="1.1"/>
<circle cx="449.4" cy="139.0" r="1.4" fill="none" stroke="#000" stroke-width="1.1"/>
<circle cx="463.6" cy="139.5" r="1.4" fill="none" stroke="#000" stroke-width="1.1"/>
<circle cx="454.9" cy="131.2" r="1.4" fill="none" stroke="#000" stroke-width="1.1"/>
<circle cx="453.0" cy="126.4" r="1.4" fill="none" stroke="#000" stroke-width="1.1"/>
<circle cx="455.1" cy="150.6" r="1.4" fill="none" stroke="#000" stroke-width="1.1"/>
<circle cx="458.5" cy="150.2" r="1.4" fill="none" stroke="#000" stroke-width="1.1"/>
<circle cx="451.6" cy="138.4" r="1.4" fill="none" stroke="#000" stroke-width="1.1"/>
<circle cx="455.8" cy="150.9" r="1.4" fill="none" stroke="#000" stroke-width="1.1"/>
<circle cx="453.4" cy="132.5" r="1.4" fill="none" stroke="#000" stroke-width="1.1"/>
<circle cx="455.8" cy="151.0" r="1.4" fill="none" stroke="#000" stroke-width="1.1"/>
<circle cx="455.5" cy="128.3" r="1.4" fill="none" stroke="#000" stroke-width="1.1"/>
<circle cx="457.6" cy="123.0" r="1.4" fill="none" stroke="#000" stroke-width="1.1"/>
<circle cx="452.3" cy="133.4" r="1.4" fill="none" stroke="#000" stroke-width="1.1"/>
<circle cx="461.2" cy="144.4" r="1.4" fill="none" stroke="#000" stroke-width="1.1"/>
<circle cx="456.6" cy="119.4" r="1.4" fill="none" stroke="#000" stroke-width="1.1"/>
<circle cx="461.8" cy="127.9" r="1.4" fill="none" stroke="#000" stroke-width="1.1"/>
<circle cx="453.7" cy="144.4" r="1.4" fill="none" stroke="#000" stroke-width="1.1"/>
<circle cx="451.1" cy="127.7" r="1.4" fill="none" stroke="#000" stroke-width="1.1"/>
<circle cx="454.5" cy="151.1" r="1.4" fill="none" stroke="#000" stroke-width="1.1"/>
<circle cx="455.7" cy="138.8" r="1.4" fill="none" stroke="#000" stroke-width="1.1"/>
<circle cx="458.2" cy="140.0" r="1.4" fill="none" stroke="#000" stroke-width="1.1"/>
<circle cx="452.0" cy="143.2" r="1.4" fill="none" stroke="#000" stroke-width="1.1"/>
<circle cx="454.4" cy="143.7" r="1.4" fill="none" stroke="#000" stroke-width="1.1"/>
<circle cx="453.1" cy="136.3" r="1.4" fill="none" stroke="#000" stroke-width="1.1"/>
<circle cx="456.3" cy="128.6" r="1.4" fill="none" stroke="#000" stroke-width="1.1"/>
<circle cx="453.6" cy="134.1" r="1.4" fill="none" stroke="#000" stroke-width="1.1"/>
<circle cx="487.3" cy="29.4" r="1.4" fill="none" stroke="#000" stroke-width="1.1"/>
<circle cx="487.5" cy="41.1" r="1.4" fill="none" stroke="#000" stroke-width="1.1"/>
<circle cx="487.5" cy="43.8" r="1.4" fill="none" stroke="#000" stroke-width="1.1"/>
<circle cx="487.3" cy="46.7" r="1.4" fill="none" stroke="#000" stroke-width="1.1"/>
<circle cx="487.3" cy="50.5" r="1.4" fill="none" stroke="#000" stroke-width="1.1"/>
<circle cx="487.8" cy="55.7" r="1.4" fill="none" stroke="#000" stroke-width="1.1"/>
<circle cx="486.2" cy="58.1" r="1.4" fill="none" stroke="#000" stroke-width="1.1"/>
<circle cx="488.6" cy="58.9" r="1.4" fill="none" stroke="#000" stroke-width="1.1"/>
<circle cx="487.0" cy="60.5" r="1.4" fill="none" stroke="#000" stroke-width="1.1"/>
<circle cx="485.4" cy="61.3" r="1.4" fill="none" stroke="#000" stroke-width="1.1"/>
<circle cx="487.8" cy="63.4" r="1.4" fill="none" stroke="#000" stroke-width="1.1"/>
<circle cx="487.3" cy="69.5" r="1.4" fill="none" stroke="#000" stroke-width="1.1"/>
<path d="M484,70 L486,68.5 L489,68.5 L491,70 L491.5,73 L489.5,75 L490,78 L494,79.5 L495,83 L494.7,86 L493.2,88.5 L493.5,90 L497.5,91 L498.5,93.5 L497,96 L494.4,97.5 L493.5,100 L490.8,102 L490.8,108 L483.5,108 L483.5,102 L481,100 L480,97.5 L477.5,96 L476.4,93.5 L477.5,91 L481.8,90 L481.8,88.5 L480,86 L480,83 L481.5,79.5 L485,78 L485.5,75 L483.5,73 Z" fill="#000"/>
<circle cx="481.5" cy="80.5" r="1.4" fill="none" stroke="#000" stroke-width="1.1"/>
<circle cx="481.5" cy="83.5" r="1.4" fill="none" stroke="#000" stroke-width="1.1"/>
<circle cx="493.5" cy="80.5" r="1.4" fill="none" stroke="#000" stroke-width="1.1"/>
<circle cx="494.0" cy="83.5" r="1.4" fill="none" stroke="#000" stroke-width="1.1"/>
<circle cx="478.5" cy="92.5" r="1.4" fill="none" stroke="#000" stroke-width="1.1"/>
<circle cx="477.8" cy="94.5" r="1.4" fill="none" stroke="#000" stroke-width="1.1"/>
<circle cx="496.5" cy="92.5" r="1.4" fill="none" stroke="#000" stroke-width="1.1"/>
<circle cx="497.0" cy="94.5" r="1.4" fill="none" stroke="#000" stroke-width="1.1"/>
<circle cx="481.5" cy="98.0" r="1.4" fill="none" stroke="#000" stroke-width="1.1"/>
<circle cx="483.0" cy="100.5" r="1.4" fill="none" stroke="#000" stroke-width="1.1"/>
<circle cx="493.0" cy="98.0" r="1.4" fill="none" stroke="#000" stroke-width="1.1"/>
<circle cx="491.5" cy="100.5" r="1.4" fill="none" stroke="#000" stroke-width="1.1"/>
<circle cx="482.5" cy="87.0" r="1.4" fill="none" stroke="#000" stroke-width="1.1"/>
<circle cx="492.5" cy="87.0" r="1.4" fill="none" stroke="#000" stroke-width="1.1"/>
<circle cx="486.0" cy="76.5" r="1.4" fill="none" stroke="#000" stroke-width="1.1"/>
<circle cx="489.0" cy="76.5" r="1.4" fill="none" stroke="#000" stroke-width="1.1"/>
<circle cx="484.5" cy="105.5" r="1.4" fill="none" stroke="#000" stroke-width="1.1"/>
<circle cx="490.0" cy="105.5" r="1.4" fill="none" stroke="#000" stroke-width="1.1"/>
<circle cx="488.0" cy="110.0" r="1.4" fill="none" stroke="#000" stroke-width="1.1"/>
<circle cx="487.5" cy="111.2" r="1.4" fill="none" stroke="#000" stroke-width="1.1"/>
<circle cx="485.7" cy="112.5" r="1.4" fill="none" stroke="#000" stroke-width="1.1"/>
<circle cx="486.4" cy="113.7" r="1.4" fill="none" stroke="#000" stroke-width="1.1"/>
<circle cx="487.1" cy="115.0" r="1.4" fill="none" stroke="#000" stroke-width="1.1"/>
<circle cx="488.5" cy="116.2" r="1.4" fill="none" stroke="#000" stroke-width="1.1"/>
<circle cx="488.4" cy="117.5" r="1.4" fill="none" stroke="#000" stroke-width="1.1"/>
<circle cx="487.3" cy="118.7" r="1.4" fill="none" stroke="#000" stroke-width="1.1"/>
<circle cx="485.6" cy="120.0" r="1.4" fill="none" stroke="#000" stroke-width="1.1"/>
<circle cx="488.1" cy="121.2" r="1.4" fill="none" stroke="#000" stroke-width="1.1"/>
<circle cx="487.0" cy="122.5" r="1.4" fill="none" stroke="#000" stroke-width="1.1"/>
<circle cx="487.4" cy="123.7" r="1.4" fill="none" stroke="#000" stroke-width="1.1"/>
<circle cx="487.9" cy="125.0" r="1.4" fill="none" stroke="#000" stroke-width="1.1"/>
<circle cx="487.6" cy="126.2" r="1.4" fill="none" stroke="#000" stroke-width="1.1"/>
<circle cx="487.1" cy="126.8" r="1.4" fill="none" stroke="#000" stroke-width="1.1"/>
<circle cx="488.5" cy="128.0" r="1.4" fill="none" stroke="#000" stroke-width="1.1"/>
<line x1="456" y1="120.5" x2="456" y2="143.5" stroke="#4b5e78" stroke-width="2"/>
<line x1="453.5" y1="120.5" x2="458.5" y2="120.5" stroke="#4b5e78" stroke-width="1.5"/>
<line x1="453.5" y1="143.5" x2="458.5" y2="143.5" stroke="#4b5e78" stroke-width="1.5"/>
<line x1="487.2" y1="72.5" x2="487.2" y2="108" stroke="#d0203a" stroke-width="2.6"/>
<line x1="483.5" y1="72.5" x2="491" y2="72.5" stroke="#d0203a" stroke-width="1.6"/>
<line x1="483.5" y1="108" x2="491" y2="108" stroke="#d0203a" stroke-width="1.6"/>
<text x="107.0" y="216.5" font-size="9.3" text-anchor="middle" fill="#111" font-weight="normal" stroke="#111" stroke-width="0.14" textLength="101.5" lengthAdjust="spacingAndGlyphs">ATAC-seq young vs. aged HSCs</text>
<line x1="77.3" y1="221.8" x2="77.3" y2="356.3" stroke="#b4b4b8" stroke-width="1.2"/>
<line x1="138.7" y1="221.8" x2="138.7" y2="356.3" stroke="#b4b4b8" stroke-width="1.2"/>
<line x1="40.8" y1="338.0" x2="175.6" y2="338.0" stroke="#bdbdbd" stroke-width="1.3"/>
<text x="45.8" y="232.8" font-size="7.5" text-anchor="start" fill="#222" font-weight="normal" stroke="#222" stroke-width="0.1" textLength="39.2" lengthAdjust="spacingAndGlyphs">Peak region</text>
<circle cx="47.6" cy="240.4" r="1.9" fill="none" stroke="#2fb34a" stroke-width="1.6"/>
<text x="52.7" y="242.6" font-size="7.5" text-anchor="start" fill="#222" font-weight="normal" stroke="#222" stroke-width="0.1" textLength="24" lengthAdjust="spacingAndGlyphs">Coding</text>
<circle cx="47.6" cy="250.0" r="1.9" fill="none" stroke="#5a1f7d" stroke-width="1.6"/>
<text x="52.9" y="252.0" font-size="7.5" text-anchor="start" fill="#222" font-weight="normal" stroke="#222" stroke-width="0.1" textLength="33" lengthAdjust="spacingAndGlyphs">Intergenic</text>
<path d="M116,336 L114.3,333 L114.3,318 L115.5,313 L117.5,308.5 L120,305.2 L124,303.8 L128,303.8 L131,305.2 L133,308 L134.5,312 L136,317 L138,322 L139,327 L138.5,332 L136.5,335.5 Z" fill="#2fb34a"/>
<circle cx="127.7" cy="318.8" r="1.7" fill="none" stroke="#2fb34a" stroke-width="1.45"/>
<circle cx="126.0" cy="332.8" r="1.7" fill="none" stroke="#2fb34a" stroke-width="1.45"/>
<circle cx="128.3" cy="320.5" r="1.7" fill="none" stroke="#2fb34a" stroke-width="1.45"/>
<circle cx="125.7" cy="310.9" r="1.7" fill="none" stroke="#2fb34a" stroke-width="1.45"/>
<circle cx="133.6" cy="324.1" r="1.7" fill="none" stroke="#2fb34a" stroke-width="1.45"/>
<circle cx="122.7" cy="308.3" r="1.7" fill="none" stroke="#2fb34a" stroke-width="1.45"/>
<circle cx="129.8" cy="308.2" r="1.7" fill="none" stroke="#2fb34a" stroke-width="1.45"/>
<circle cx="116.7" cy="326.0" r="1.7" fill="none" stroke="#2fb34a" stroke-width="1.45"/>
<circle cx="136.1" cy="334.5" r="1.7" fill="none" stroke="#2fb34a" stroke-width="1.45"/>
<circle cx="129.7" cy="324.8" r="1.7" fill="none" stroke="#2fb34a" stroke-width="1.45"/>
<circle cx="116.8" cy="310.1" r="1.7" fill="none" stroke="#2fb34a" stroke-width="1.45"/>
<circle cx="117.1" cy="321.1" r="1.7" fill="none" stroke="#2fb34a" stroke-width="1.45"/>
<circle cx="120.9" cy="311.1" r="1.7" fill="none" stroke="#2fb34a" stroke-width="1.45"/>
<circle cx="125.0" cy="306.4" r="1.7" fill="none" stroke="#2fb34a" stroke-width="1.45"/>
<circle cx="133.7" cy="318.5" r="1.7" fill="none" stroke="#2fb34a" stroke-width="1.45"/>
<circle cx="129.4" cy="320.8" r="1.7" fill="none" stroke="#2fb34a" stroke-width="1.45"/>
<circle cx="129.8" cy="320.2" r="1.7" fill="none" stroke="#2fb34a" stroke-width="1.45"/>
<circle cx="121.7" cy="319.0" r="1.7" fill="none" stroke="#2fb34a" stroke-width="1.45"/>
<circle cx="136.7" cy="334.9" r="1.7" fill="none" stroke="#2fb34a" stroke-width="1.45"/>
<circle cx="131.7" cy="330.3" r="1.7" fill="none" stroke="#2fb34a" stroke-width="1.45"/>
<circle cx="120.6" cy="314.8" r="1.7" fill="none" stroke="#2fb34a" stroke-width="1.45"/>
<circle cx="117.8" cy="314.0" r="1.7" fill="none" stroke="#2fb34a" stroke-width="1.45"/>
<circle cx="124.8" cy="328.1" r="1.7" fill="none" stroke="#2fb34a" stroke-width="1.45"/>
<circle cx="124.5" cy="330.5" r="1.7" fill="none" stroke="#2fb34a" stroke-width="1.45"/>
<circle cx="133.7" cy="333.8" r="1.7" fill="none" stroke="#2fb34a" stroke-width="1.45"/>
<circle cx="122.9" cy="305.5" r="1.7" fill="none" stroke="#2fb34a" stroke-width="1.45"/>
<circle cx="126.0" cy="332.4" r="1.7" fill="none" stroke="#2fb34a" stroke-width="1.45"/>
<circle cx="124.6" cy="334.4" r="1.7" fill="none" stroke="#2fb34a" stroke-width="1.45"/>
<circle cx="127.3" cy="307.7" r="1.7" fill="none" stroke="#2fb34a" stroke-width="1.45"/>
<circle cx="121.9" cy="328.5" r="1.7" fill="none" stroke="#2fb34a" stroke-width="1.45"/>
<circle cx="123.2" cy="308.1" r="1.7" fill="none" stroke="#2fb34a" stroke-width="1.45"/>
<circle cx="131.9" cy="333.9" r="1.7" fill="none" stroke="#2fb34a" stroke-width="1.45"/>
<circle cx="121.9" cy="309.0" r="1.7" fill="none" stroke="#2fb34a" stroke-width="1.45"/>
<circle cx="119.3" cy="308.5" r="1.7" fill="none" stroke="#2fb34a" stroke-width="1.45"/>
<circle cx="119.8" cy="329.0" r="1.7" fill="none" stroke="#2fb34a" stroke-width="1.45"/>
<circle cx="125.3" cy="322.0" r="1.7" fill="none" stroke="#2fb34a" stroke-width="1.45"/>
<circle cx="129.7" cy="311.1" r="1.7" fill="none" stroke="#2fb34a" stroke-width="1.45"/>
<circle cx="127.5" cy="309.4" r="1.7" fill="none" stroke="#2fb34a" stroke-width="1.45"/>
<circle cx="124.4" cy="308.9" r="1.7" fill="none" stroke="#2fb34a" stroke-width="1.45"/>
<circle cx="121.4" cy="311.8" r="1.7" fill="none" stroke="#2fb34a" stroke-width="1.45"/>
<circle cx="132.8" cy="334.1" r="1.7" fill="none" stroke="#2fb34a" stroke-width="1.45"/>
<circle cx="132.4" cy="314.5" r="1.7" fill="none" stroke="#2fb34a" stroke-width="1.45"/>
<circle cx="123.6" cy="311.7" r="1.7" fill="none" stroke="#2fb34a" stroke-width="1.45"/>
<circle cx="130.2" cy="330.7" r="1.7" fill="none" stroke="#2fb34a" stroke-width="1.45"/>
<circle cx="132.4" cy="308.5" r="1.7" fill="none" stroke="#2fb34a" stroke-width="1.45"/>
<circle cx="121.1" cy="311.8" r="1.7" fill="none" stroke="#2fb34a" stroke-width="1.45"/>
<circle cx="123.2" cy="328.3" r="1.7" fill="none" stroke="#2fb34a" stroke-width="1.45"/>
<circle cx="117.8" cy="314.2" r="1.7" fill="none" stroke="#2fb34a" stroke-width="1.45"/>
<circle cx="126.7" cy="308.2" r="1.7" fill="none" stroke="#2fb34a" stroke-width="1.45"/>
<circle cx="127.3" cy="312.7" r="1.7" fill="none" stroke="#2fb34a" stroke-width="1.45"/>
<circle cx="125.4" cy="316.5" r="1.7" fill="none" stroke="#2fb34a" stroke-width="1.45"/>
<circle cx="126.3" cy="333.8" r="1.7" fill="none" stroke="#2fb34a" stroke-width="1.45"/>
<circle cx="134.2" cy="322.4" r="1.7" fill="none" stroke="#2fb34a" stroke-width="1.45"/>
<circle cx="119.3" cy="310.9" r="1.7" fill="none" stroke="#2fb34a" stroke-width="1.45"/>
<circle cx="133.1" cy="332.3" r="1.7" fill="none" stroke="#2fb34a" stroke-width="1.45"/>
<circle cx="119.9" cy="312.9" r="1.7" fill="none" stroke="#2fb34a" stroke-width="1.45"/>
<circle cx="137.0" cy="327.3" r="1.7" fill="none" stroke="#2fb34a" stroke-width="1.45"/>
<circle cx="133.6" cy="311.3" r="1.7" fill="none" stroke="#2fb34a" stroke-width="1.45"/>
<circle cx="129.4" cy="331.5" r="1.7" fill="none" stroke="#2fb34a" stroke-width="1.45"/>
<circle cx="118.0" cy="317.9" r="1.7" fill="none" stroke="#2fb34a" stroke-width="1.45"/>
<circle cx="132.0" cy="306.6" r="1.7" fill="none" stroke="#2fb34a" stroke-width="1.45"/>
<circle cx="129.2" cy="312.5" r="1.7" fill="none" stroke="#2fb34a" stroke-width="1.45"/>
<circle cx="131.3" cy="313.1" r="1.7" fill="none" stroke="#2fb34a" stroke-width="1.45"/>
<circle cx="122.0" cy="323.1" r="1.7" fill="none" stroke="#2fb34a" stroke-width="1.45"/>
<circle cx="129.5" cy="310.7" r="1.7" fill="none" stroke="#2fb34a" stroke-width="1.45"/>
<circle cx="121.7" cy="307.5" r="1.7" fill="none" stroke="#2fb34a" stroke-width="1.45"/>
<circle cx="133.9" cy="322.0" r="1.7" fill="none" stroke="#2fb34a" stroke-width="1.45"/>
<circle cx="121.7" cy="323.6" r="1.7" fill="none" stroke="#2fb34a" stroke-width="1.45"/>
<circle cx="120.6" cy="332.6" r="1.7" fill="none" stroke="#2fb34a" stroke-width="1.45"/>
<circle cx="123.4" cy="306.0" r="1.7" fill="none" stroke="#2fb34a" stroke-width="1.45"/>
<circle cx="117.1" cy="318.6" r="1.7" fill="none" stroke="#2fb34a" stroke-width="1.45"/>
<circle cx="123.1" cy="310.7" r="1.7" fill="none" stroke="#2fb34a" stroke-width="1.45"/>
<circle cx="118.6" cy="322.4" r="1.7" fill="none" stroke="#2fb34a" stroke-width="1.45"/>
<circle cx="134.7" cy="316.2" r="1.7" fill="none" stroke="#2fb34a" stroke-width="1.45"/>
<circle cx="129.8" cy="334.4" r="1.7" fill="none" stroke="#2fb34a" stroke-width="1.45"/>
<circle cx="128.9" cy="325.9" r="1.7" fill="none" stroke="#2fb34a" stroke-width="1.45"/>
<circle cx="119.0" cy="309.6" r="1.7" fill="none" stroke="#2fb34a" stroke-width="1.45"/>
<circle cx="131.2" cy="306.0" r="1.7" fill="none" stroke="#2fb34a" stroke-width="1.45"/>
<circle cx="137.5" cy="326.2" r="1.7" fill="none" stroke="#2fb34a" stroke-width="1.45"/>
<circle cx="127.4" cy="306.1" r="1.7" fill="none" stroke="#2fb34a" stroke-width="1.45"/>
<circle cx="131.3" cy="319.7" r="1.7" fill="none" stroke="#2fb34a" stroke-width="1.45"/>
<circle cx="134.5" cy="314.9" r="1.7" fill="none" stroke="#2fb34a" stroke-width="1.45"/>
<circle cx="126.1" cy="307.7" r="1.7" fill="none" stroke="#2fb34a" stroke-width="1.45"/>
<circle cx="136.1" cy="327.2" r="1.7" fill="none" stroke="#2fb34a" stroke-width="1.45"/>
<circle cx="131.6" cy="327.2" r="1.7" fill="none" stroke="#2fb34a" stroke-width="1.45"/>
<circle cx="136.4" cy="328.9" r="1.7" fill="none" stroke="#2fb34a" stroke-width="1.45"/>
<circle cx="128.8" cy="315.9" r="1.7" fill="none" stroke="#2fb34a" stroke-width="1.45"/>
<circle cx="134.2" cy="332.1" r="1.7" fill="none" stroke="#2fb34a" stroke-width="1.45"/>
<circle cx="132.6" cy="317.8" r="1.7" fill="none" stroke="#2fb34a" stroke-width="1.45"/>
<circle cx="128.7" cy="331.0" r="1.7" fill="none" stroke="#2fb34a" stroke-width="1.45"/>
<circle cx="123.9" cy="323.9" r="1.7" fill="none" stroke="#2fb34a" stroke-width="1.45"/>
<circle cx="128.7" cy="322.7" r="1.7" fill="none" stroke="#2fb34a" stroke-width="1.45"/>
<circle cx="127.5" cy="307.9" r="1.7" fill="none" stroke="#2fb34a" stroke-width="1.45"/>
<circle cx="134.4" cy="334.8" r="1.7" fill="none" stroke="#2fb34a" stroke-width="1.45"/>
<circle cx="124.5" cy="327.0" r="1.7" fill="none" stroke="#2fb34a" stroke-width="1.45"/>
<circle cx="128.9" cy="327.2" r="1.7" fill="none" stroke="#2fb34a" stroke-width="1.45"/>
<circle cx="133.6" cy="318.5" r="1.7" fill="none" stroke="#2fb34a" stroke-width="1.45"/>
<circle cx="129.0" cy="308.0" r="1.7" fill="none" stroke="#2fb34a" stroke-width="1.45"/>
<circle cx="126.9" cy="306.4" r="1.7" fill="none" stroke="#2fb34a" stroke-width="1.45"/>
<circle cx="120.7" cy="319.7" r="1.7" fill="none" stroke="#2fb34a" stroke-width="1.45"/>
<circle cx="127.0" cy="326.1" r="1.7" fill="none" stroke="#2fb34a" stroke-width="1.45"/>
<circle cx="135.3" cy="323.6" r="1.7" fill="none" stroke="#2fb34a" stroke-width="1.45"/>
<circle cx="116.7" cy="313.0" r="1.7" fill="none" stroke="#2fb34a" stroke-width="1.45"/>
<circle cx="128.7" cy="314.4" r="1.7" fill="none" stroke="#2fb34a" stroke-width="1.45"/>
<circle cx="119.6" cy="311.5" r="1.7" fill="none" stroke="#2fb34a" stroke-width="1.45"/>
<circle cx="129.9" cy="332.2" r="1.7" fill="none" stroke="#2fb34a" stroke-width="1.45"/>
<circle cx="134.7" cy="318.5" r="1.7" fill="none" stroke="#2fb34a" stroke-width="1.45"/>
<circle cx="128.5" cy="315.1" r="1.7" fill="none" stroke="#2fb34a" stroke-width="1.45"/>
<circle cx="124.3" cy="311.4" r="1.7" fill="none" stroke="#2fb34a" stroke-width="1.45"/>
<circle cx="136.4" cy="329.3" r="1.7" fill="none" stroke="#2fb34a" stroke-width="1.45"/>
<circle cx="125.8" cy="332.0" r="1.7" fill="none" stroke="#5a1f7d" stroke-width="1.45"/>
<circle cx="124.3" cy="326.9" r="1.7" fill="none" stroke="#5a1f7d" stroke-width="1.45"/>
<circle cx="127.6" cy="319.3" r="1.7" fill="none" stroke="#5a1f7d" stroke-width="1.45"/>
<circle cx="136.0" cy="331.2" r="1.7" fill="none" stroke="#5a1f7d" stroke-width="1.45"/>
<circle cx="138.2" cy="329.1" r="1.7" fill="none" stroke="#5a1f7d" stroke-width="1.45"/>
<circle cx="120.8" cy="321.7" r="1.7" fill="none" stroke="#5a1f7d" stroke-width="1.45"/>
<circle cx="123.4" cy="324.7" r="1.7" fill="none" stroke="#5a1f7d" stroke-width="1.45"/>
<circle cx="125.9" cy="320.6" r="1.7" fill="none" stroke="#5a1f7d" stroke-width="1.45"/>
<circle cx="128.2" cy="327.6" r="1.7" fill="none" stroke="#5a1f7d" stroke-width="1.45"/>
<circle cx="134.7" cy="322.4" r="1.7" fill="none" stroke="#5a1f7d" stroke-width="1.45"/>
<circle cx="127.0" cy="333.7" r="1.7" fill="none" stroke="#5a1f7d" stroke-width="1.45"/>
<circle cx="118.0" cy="318.3" r="1.7" fill="none" stroke="#5a1f7d" stroke-width="1.45"/>
<circle cx="118.2" cy="331.8" r="1.7" fill="none" stroke="#5a1f7d" stroke-width="1.45"/>
<circle cx="129.9" cy="329.0" r="1.7" fill="none" stroke="#5a1f7d" stroke-width="1.45"/>
<circle cx="133.7" cy="322.3" r="1.7" fill="none" stroke="#5a1f7d" stroke-width="1.45"/>
<circle cx="120.1" cy="317.3" r="1.7" fill="none" stroke="#5a1f7d" stroke-width="1.45"/>
<circle cx="117.8" cy="324.7" r="1.7" fill="none" stroke="#5a1f7d" stroke-width="1.45"/>
<circle cx="122.5" cy="331.1" r="1.7" fill="none" stroke="#5a1f7d" stroke-width="1.45"/>
<circle cx="118.3" cy="319.4" r="1.7" fill="none" stroke="#5a1f7d" stroke-width="1.45"/>
<circle cx="127.1" cy="327.7" r="1.7" fill="none" stroke="#5a1f7d" stroke-width="1.45"/>
<circle cx="131.7" cy="327.7" r="1.7" fill="none" stroke="#5a1f7d" stroke-width="1.45"/>
<circle cx="138.4" cy="330.7" r="1.7" fill="none" stroke="#5a1f7d" stroke-width="1.45"/>
<circle cx="121.7" cy="328.6" r="1.7" fill="none" stroke="#5a1f7d" stroke-width="1.45"/>
<circle cx="121.2" cy="325.1" r="1.7" fill="none" stroke="#5a1f7d" stroke-width="1.45"/>
<circle cx="127.1" cy="317.2" r="1.7" fill="none" stroke="#5a1f7d" stroke-width="1.45"/>
<circle cx="121.2" cy="329.1" r="1.7" fill="none" stroke="#5a1f7d" stroke-width="1.45"/>
<circle cx="124.5" cy="321.6" r="1.7" fill="none" stroke="#5a1f7d" stroke-width="1.45"/>
<circle cx="128.7" cy="328.9" r="1.7" fill="none" stroke="#5a1f7d" stroke-width="1.45"/>
<circle cx="133.9" cy="327.4" r="1.7" fill="none" stroke="#5a1f7d" stroke-width="1.45"/>
<circle cx="133.7" cy="323.7" r="1.7" fill="none" stroke="#5a1f7d" stroke-width="1.45"/>
<circle cx="119.7" cy="332.4" r="1.7" fill="none" stroke="#5a1f7d" stroke-width="1.45"/>
<circle cx="132.3" cy="332.9" r="1.7" fill="none" stroke="#5a1f7d" stroke-width="1.45"/>
<circle cx="126.7" cy="319.2" r="1.7" fill="none" stroke="#5a1f7d" stroke-width="1.45"/>
<circle cx="137.3" cy="327.6" r="1.7" fill="none" stroke="#5a1f7d" stroke-width="1.45"/>
<circle cx="129.1" cy="323.4" r="1.7" fill="none" stroke="#5a1f7d" stroke-width="1.45"/>
<circle cx="134.8" cy="331.9" r="1.7" fill="none" stroke="#5a1f7d" stroke-width="1.45"/>
<circle cx="127.2" cy="333.1" r="1.7" fill="none" stroke="#5a1f7d" stroke-width="1.45"/>
<circle cx="121.8" cy="328.1" r="1.7" fill="none" stroke="#5a1f7d" stroke-width="1.45"/>
<circle cx="135.3" cy="329.3" r="1.7" fill="none" stroke="#5a1f7d" stroke-width="1.45"/>
<circle cx="133.1" cy="327.9" r="1.7" fill="none" stroke="#5a1f7d" stroke-width="1.45"/>
<circle cx="135.9" cy="320.6" r="1.7" fill="none" stroke="#5a1f7d" stroke-width="1.45"/>
<circle cx="137.4" cy="333.7" r="1.7" fill="none" stroke="#5a1f7d" stroke-width="1.45"/>
<circle cx="134.7" cy="326.1" r="1.7" fill="none" stroke="#5a1f7d" stroke-width="1.45"/>
<circle cx="136.1" cy="322.4" r="1.7" fill="none" stroke="#5a1f7d" stroke-width="1.45"/>
<circle cx="125.0" cy="331.5" r="1.7" fill="none" stroke="#5a1f7d" stroke-width="1.45"/>
<circle cx="117.2" cy="312.4" r="1.7" fill="none" stroke="#5a1f7d" stroke-width="1.45"/>
<circle cx="123.7" cy="315.7" r="1.7" fill="none" stroke="#5a1f7d" stroke-width="1.45"/>
<circle cx="122.8" cy="308.3" r="1.7" fill="none" stroke="#5a1f7d" stroke-width="1.45"/>
<circle cx="127.3" cy="308.6" r="1.7" fill="none" stroke="#5a1f7d" stroke-width="1.45"/>
<circle cx="127.2" cy="309.7" r="1.7" fill="none" stroke="#5a1f7d" stroke-width="1.45"/>
<circle cx="120.7" cy="315.9" r="1.7" fill="none" stroke="#5a1f7d" stroke-width="1.45"/>
<circle cx="118.0" cy="309.5" r="1.7" fill="none" stroke="#5a1f7d" stroke-width="1.45"/>
<circle cx="123.2" cy="315.2" r="1.7" fill="none" stroke="#5a1f7d" stroke-width="1.45"/>
<circle cx="127.8" cy="314.9" r="1.7" fill="none" stroke="#5a1f7d" stroke-width="1.45"/>
<circle cx="129.2" cy="312.9" r="1.7" fill="none" stroke="#5a1f7d" stroke-width="1.45"/>
<circle cx="118.2" cy="333.5" r="1.7" fill="none" stroke="#2fb34a" stroke-width="1.45"/>
<circle cx="126.0" cy="312.0" r="1.7" fill="none" stroke="#2fb34a" stroke-width="1.45"/>
<circle cx="129.6" cy="314.1" r="1.7" fill="none" stroke="#2fb34a" stroke-width="1.45"/>
<circle cx="127.6" cy="324.3" r="1.7" fill="none" stroke="#2fb34a" stroke-width="1.45"/>
<circle cx="128.4" cy="330.4" r="1.7" fill="none" stroke="#2fb34a" stroke-width="1.45"/>
<circle cx="123.4" cy="314.7" r="1.7" fill="none" stroke="#2fb34a" stroke-width="1.45"/>
<circle cx="136.1" cy="330.4" r="1.7" fill="none" stroke="#2fb34a" stroke-width="1.45"/>
<circle cx="131.8" cy="311.6" r="1.7" fill="none" stroke="#2fb34a" stroke-width="1.45"/>
<circle cx="127.1" cy="334.1" r="1.7" fill="none" stroke="#2fb34a" stroke-width="1.45"/>
<circle cx="120.1" cy="322.4" r="1.7" fill="none" stroke="#2fb34a" stroke-width="1.45"/>
<circle cx="126.5" cy="321.3" r="1.7" fill="none" stroke="#2fb34a" stroke-width="1.45"/>
<circle cx="116.4" cy="323.4" r="1.7" fill="none" stroke="#2fb34a" stroke-width="1.45"/>
<circle cx="127.0" cy="334.1" r="1.7" fill="none" stroke="#2fb34a" stroke-width="1.45"/>
<circle cx="132.8" cy="317.3" r="1.7" fill="none" stroke="#2fb34a" stroke-width="1.45"/>
<circle cx="126.2" cy="322.1" r="1.7" fill="none" stroke="#2fb34a" stroke-width="1.45"/>
<circle cx="117.3" cy="325.9" r="1.7" fill="none" stroke="#2fb34a" stroke-width="1.45"/>
<circle cx="124.6" cy="321.4" r="1.7" fill="none" stroke="#2fb34a" stroke-width="1.45"/>
<circle cx="135.2" cy="333.7" r="1.7" fill="none" stroke="#2fb34a" stroke-width="1.45"/>
<circle cx="125.0" cy="313.4" r="1.7" fill="none" stroke="#2fb34a" stroke-width="1.45"/>
<circle cx="124.6" cy="309.2" r="1.7" fill="none" stroke="#2fb34a" stroke-width="1.45"/>
<circle cx="136.1" cy="329.6" r="1.7" fill="none" stroke="#2fb34a" stroke-width="1.45"/>
<circle cx="122.5" cy="319.6" r="1.7" fill="none" stroke="#2fb34a" stroke-width="1.45"/>
<circle cx="127.6" cy="311.1" r="1.7" fill="none" stroke="#2fb34a" stroke-width="1.45"/>
<circle cx="119.1" cy="332.8" r="1.7" fill="none" stroke="#2fb34a" stroke-width="1.45"/>
<circle cx="116.3" cy="328.5" r="1.7" fill="none" stroke="#2fb34a" stroke-width="1.45"/>
<circle cx="120.6" cy="311.2" r="1.7" fill="none" stroke="#2fb34a" stroke-width="1.45"/>
<circle cx="123.0" cy="325.8" r="1.7" fill="none" stroke="#2fb34a" stroke-width="1.45"/>
<circle cx="127.7" cy="316.0" r="1.7" fill="none" stroke="#2fb34a" stroke-width="1.45"/>
<circle cx="128.7" cy="308.6" r="1.7" fill="none" stroke="#2fb34a" stroke-width="1.45"/>
<circle cx="125.6" cy="309.1" r="1.7" fill="none" stroke="#2fb34a" stroke-width="1.45"/>
<circle cx="120.1" cy="312.9" r="1.7" fill="none" stroke="#2fb34a" stroke-width="1.45"/>
<circle cx="125.1" cy="321.1" r="1.7" fill="none" stroke="#2fb34a" stroke-width="1.45"/>
<circle cx="124.6" cy="316.6" r="1.7" fill="none" stroke="#2fb34a" stroke-width="1.45"/>
<circle cx="119.2" cy="321.1" r="1.7" fill="none" stroke="#2fb34a" stroke-width="1.45"/>
<circle cx="127.9" cy="311.5" r="1.7" fill="none" stroke="#2fb34a" stroke-width="1.45"/>
<circle cx="127.7" cy="324.3" r="1.7" fill="none" stroke="#2fb34a" stroke-width="1.45"/>
<circle cx="129.6" cy="330.6" r="1.7" fill="none" stroke="#2fb34a" stroke-width="1.45"/>
<circle cx="121.0" cy="330.8" r="1.7" fill="none" stroke="#2fb34a" stroke-width="1.45"/>
<circle cx="134.0" cy="327.4" r="1.7" fill="none" stroke="#2fb34a" stroke-width="1.45"/>
<circle cx="122.9" cy="332.1" r="1.7" fill="none" stroke="#2fb34a" stroke-width="1.45"/>
<circle cx="133.1" cy="314.8" r="1.7" fill="none" stroke="#2fb34a" stroke-width="1.45"/>
<circle cx="134.5" cy="311.9" r="1.7" fill="none" stroke="#2fb34a" stroke-width="1.45"/>
<circle cx="118.8" cy="331.7" r="1.7" fill="none" stroke="#2fb34a" stroke-width="1.45"/>
<circle cx="129.6" cy="312.6" r="1.7" fill="none" stroke="#2fb34a" stroke-width="1.45"/>
<circle cx="118.2" cy="313.2" r="1.7" fill="none" stroke="#2fb34a" stroke-width="1.45"/>
<circle cx="125.3" cy="330.0" r="1.7" fill="none" stroke="#2fb34a" stroke-width="1.45"/>
<circle cx="118.6" cy="328.8" r="1.7" fill="none" stroke="#2fb34a" stroke-width="1.45"/>
<circle cx="130.3" cy="317.4" r="1.7" fill="none" stroke="#2fb34a" stroke-width="1.45"/>
<circle cx="121.3" cy="306.0" r="1.7" fill="none" stroke="#2fb34a" stroke-width="1.45"/>
<circle cx="136.3" cy="325.6" r="1.7" fill="none" stroke="#2fb34a" stroke-width="1.45"/>
<circle cx="118.8" cy="334.1" r="1.7" fill="none" stroke="#2fb34a" stroke-width="1.45"/>
<circle cx="131.9" cy="320.4" r="1.7" fill="none" stroke="#2fb34a" stroke-width="1.45"/>
<circle cx="130.3" cy="320.3" r="1.7" fill="none" stroke="#2fb34a" stroke-width="1.45"/>
<circle cx="117.8" cy="311.1" r="1.7" fill="none" stroke="#2fb34a" stroke-width="1.45"/>
<circle cx="119.0" cy="308.6" r="1.7" fill="none" stroke="#2fb34a" stroke-width="1.45"/>
<circle cx="126.7" cy="321.8" r="1.7" fill="none" stroke="#2fb34a" stroke-width="1.45"/>
<circle cx="118.9" cy="322.3" r="1.7" fill="none" stroke="#2fb34a" stroke-width="1.45"/>
<circle cx="120.2" cy="310.9" r="1.7" fill="none" stroke="#2fb34a" stroke-width="1.45"/>
<circle cx="138.1" cy="330.3" r="1.7" fill="none" stroke="#2fb34a" stroke-width="1.45"/>
<circle cx="118.4" cy="332.8" r="1.7" fill="none" stroke="#2fb34a" stroke-width="1.45"/>
<circle cx="131.8" cy="307.3" r="1.7" fill="none" stroke="#2fb34a" stroke-width="1.45"/>
<circle cx="132.0" cy="319.1" r="1.7" fill="none" stroke="#2fb34a" stroke-width="1.45"/>
<circle cx="124.9" cy="315.1" r="1.7" fill="none" stroke="#2fb34a" stroke-width="1.45"/>
<circle cx="124.9" cy="320.7" r="1.7" fill="none" stroke="#2fb34a" stroke-width="1.45"/>
<circle cx="116.1" cy="323.2" r="1.7" fill="none" stroke="#2fb34a" stroke-width="1.45"/>
<circle cx="134.8" cy="326.2" r="1.7" fill="none" stroke="#2fb34a" stroke-width="1.45"/>
<circle cx="124.7" cy="310.8" r="1.7" fill="none" stroke="#2fb34a" stroke-width="1.45"/>
<circle cx="124.9" cy="327.3" r="1.7" fill="none" stroke="#2fb34a" stroke-width="1.45"/>
<circle cx="119.5" cy="311.3" r="1.7" fill="none" stroke="#2fb34a" stroke-width="1.45"/>
<circle cx="116.1" cy="320.6" r="1.7" fill="none" stroke="#2fb34a" stroke-width="1.45"/>
<circle cx="133.8" cy="331.8" r="1.7" fill="none" stroke="#2fb34a" stroke-width="1.45"/>
<circle cx="135.2" cy="326.3" r="1.7" fill="none" stroke="#2fb34a" stroke-width="1.45"/>
<circle cx="124.9" cy="324.1" r="1.7" fill="none" stroke="#2fb34a" stroke-width="1.45"/>
<circle cx="126.5" cy="323.2" r="1.7" fill="none" stroke="#2fb34a" stroke-width="1.45"/>
<circle cx="132.8" cy="334.5" r="1.7" fill="none" stroke="#2fb34a" stroke-width="1.45"/>
<circle cx="132.9" cy="313.1" r="1.7" fill="none" stroke="#2fb34a" stroke-width="1.45"/>
<circle cx="133.3" cy="327.5" r="1.7" fill="none" stroke="#2fb34a" stroke-width="1.45"/>
<circle cx="124.9" cy="329.5" r="1.7" fill="none" stroke="#2fb34a" stroke-width="1.45"/>
<circle cx="135.6" cy="331.9" r="1.7" fill="none" stroke="#2fb34a" stroke-width="1.45"/>
<circle cx="133.1" cy="326.0" r="1.7" fill="none" stroke="#2fb34a" stroke-width="1.45"/>
<circle cx="124.9" cy="328.1" r="1.7" fill="none" stroke="#2fb34a" stroke-width="1.45"/>
<circle cx="117.4" cy="326.8" r="1.7" fill="none" stroke="#2fb34a" stroke-width="1.45"/>
<circle cx="124.9" cy="315.6" r="1.7" fill="none" stroke="#2fb34a" stroke-width="1.45"/>
<circle cx="124.2" cy="305.8" r="1.7" fill="none" stroke="#2fb34a" stroke-width="1.45"/>
<circle cx="129.8" cy="324.3" r="1.7" fill="none" stroke="#2fb34a" stroke-width="1.45"/>
<circle cx="137.7" cy="237.0" r="1.7" fill="none" stroke="#2fb34a" stroke-width="1.45"/>
<circle cx="132.2" cy="252.7" r="1.7" fill="none" stroke="#2fb34a" stroke-width="1.45"/>
<circle cx="132.8" cy="260.5" r="1.7" fill="none" stroke="#2fb34a" stroke-width="1.45"/>
<circle cx="134.7" cy="265.4" r="1.7" fill="none" stroke="#2fb34a" stroke-width="1.45"/>
<circle cx="122.7" cy="274.7" r="1.7" fill="none" stroke="#2fb34a" stroke-width="1.45"/>
<circle cx="122.7" cy="284.6" r="1.7" fill="none" stroke="#2fb34a" stroke-width="1.45"/>
<circle cx="119.7" cy="284.9" r="1.7" fill="none" stroke="#2fb34a" stroke-width="1.45"/>
<circle cx="117.7" cy="287.7" r="1.7" fill="none" stroke="#2fb34a" stroke-width="1.45"/>
<circle cx="120.0" cy="286.0" r="1.7" fill="none" stroke="#2fb34a" stroke-width="1.45"/>
<circle cx="122.9" cy="284.8" r="1.7" fill="none" stroke="#2fb34a" stroke-width="1.45"/>
<circle cx="123.5" cy="287.1" r="1.7" fill="none" stroke="#2fb34a" stroke-width="1.45"/>
<circle cx="123.5" cy="289.4" r="1.7" fill="none" stroke="#2fb34a" stroke-width="1.45"/>
<circle cx="131.3" cy="289.8" r="1.7" fill="none" stroke="#2fb34a" stroke-width="1.45"/>
<circle cx="138.4" cy="290.0" r="1.7" fill="none" stroke="#2fb34a" stroke-width="1.45"/>
<circle cx="121.7" cy="294.8" r="1.7" fill="none" stroke="#2fb34a" stroke-width="1.45"/>
<circle cx="124.6" cy="294.0" r="1.7" fill="none" stroke="#2fb34a" stroke-width="1.45"/>
<circle cx="126.3" cy="297.5" r="1.7" fill="none" stroke="#2fb34a" stroke-width="1.45"/>
<circle cx="141.3" cy="298.1" r="1.7" fill="none" stroke="#2fb34a" stroke-width="1.45"/>
<circle cx="142.8" cy="306.1" r="1.7" fill="none" stroke="#2fb34a" stroke-width="1.45"/>
<circle cx="142.8" cy="313.6" r="1.7" fill="none" stroke="#2fb34a" stroke-width="1.45"/>
<circle cx="143.0" cy="314.4" r="1.7" fill="none" stroke="#2fb34a" stroke-width="1.45"/>
<circle cx="142.1" cy="318.5" r="1.7" fill="none" stroke="#2fb34a" stroke-width="1.45"/>
<circle cx="144.8" cy="321.3" r="1.7" fill="none" stroke="#2fb34a" stroke-width="1.45"/>
<circle cx="73.5" cy="329.0" r="1.7" fill="none" stroke="#2fb34a" stroke-width="1.45"/>
<circle cx="83.2" cy="329.0" r="1.7" fill="none" stroke="#2fb34a" stroke-width="1.45"/>
<circle cx="120.5" cy="302.5" r="1.7" fill="none" stroke="#2fb34a" stroke-width="1.45"/>
<circle cx="124.5" cy="301.5" r="1.7" fill="none" stroke="#2fb34a" stroke-width="1.45"/>
<circle cx="128.5" cy="302.0" r="1.7" fill="none" stroke="#2fb34a" stroke-width="1.45"/>
<circle cx="132.0" cy="303.5" r="1.7" fill="none" stroke="#2fb34a" stroke-width="1.45"/>
<circle cx="116.5" cy="307.0" r="1.7" fill="none" stroke="#2fb34a" stroke-width="1.45"/>
<circle cx="115.5" cy="311.0" r="1.7" fill="none" stroke="#2fb34a" stroke-width="1.45"/>
<circle cx="139.5" cy="264.2" r="1.7" fill="none" stroke="#5a1f7d" stroke-width="1.45"/>
<circle cx="126.9" cy="290.0" r="1.7" fill="none" stroke="#5a1f7d" stroke-width="1.45"/>
<circle cx="128.1" cy="294.0" r="1.7" fill="none" stroke="#5a1f7d" stroke-width="1.45"/>
<circle cx="144.2" cy="294.0" r="1.7" fill="none" stroke="#5a1f7d" stroke-width="1.45"/>
<circle cx="144.2" cy="295.5" r="1.7" fill="none" stroke="#5a1f7d" stroke-width="1.45"/>
<circle cx="150.9" cy="298.4" r="1.7" fill="none" stroke="#5a1f7d" stroke-width="1.45"/>
<circle cx="133.3" cy="303.0" r="1.7" fill="none" stroke="#5a1f7d" stroke-width="1.45"/>
<circle cx="133.8" cy="305.6" r="1.7" fill="none" stroke="#5a1f7d" stroke-width="1.45"/>
<circle cx="137.1" cy="309.6" r="1.7" fill="none" stroke="#5a1f7d" stroke-width="1.45"/>
<circle cx="135.2" cy="316.1" r="1.7" fill="none" stroke="#5a1f7d" stroke-width="1.45"/>
<circle cx="116.3" cy="312.7" r="1.7" fill="none" stroke="#5a1f7d" stroke-width="1.45"/>
<circle cx="144.8" cy="324.2" r="1.7" fill="none" stroke="#5a1f7d" stroke-width="1.45"/>
<circle cx="140.8" cy="327.7" r="1.7" fill="none" stroke="#5a1f7d" stroke-width="1.45"/>
<circle cx="138.4" cy="326.5" r="1.7" fill="none" stroke="#5a1f7d" stroke-width="1.45"/>
<circle cx="81.4" cy="316.5" r="1.7" fill="none" stroke="#5a1f7d" stroke-width="1.45"/>
<circle cx="78.5" cy="329.0" r="1.7" fill="none" stroke="#5a1f7d" stroke-width="1.45"/>
<rect x="40.8" y="221.8" width="134.8" height="134.5" fill="none" stroke="#000" stroke-width="1.45"/>
<line x1="38.0" y1="350.2" x2="40.8" y2="350.2" stroke="#000" stroke-width="1"/>
<text x="37.2" y="353.05" font-size="8.1" text-anchor="end" fill="#222" font-weight="normal" stroke="#222" stroke-width="0.14">0.0</text>
<line x1="38.0" y1="319.6" x2="40.8" y2="319.6" stroke="#000" stroke-width="1"/>
<text x="37.2" y="322.4375" font-size="8.1" text-anchor="end" fill="#222" font-weight="normal" stroke="#222" stroke-width="0.14">2.5</text>
<line x1="38.0" y1="289.0" x2="40.8" y2="289.0" stroke="#000" stroke-width="1"/>
<text x="37.2" y="291.825" font-size="8.1" text-anchor="end" fill="#222" font-weight="normal" stroke="#222" stroke-width="0.14">5.0</text>
<line x1="38.0" y1="258.4" x2="40.8" y2="258.4" stroke="#000" stroke-width="1"/>
<text x="37.2" y="261.21250000000003" font-size="8.1" text-anchor="end" fill="#222" font-weight="normal" stroke="#222" stroke-width="0.14">7.5</text>
<line x1="38.0" y1="227.8" x2="40.8" y2="227.8" stroke="#000" stroke-width="1"/>
<text x="37.2" y="230.60000000000002" font-size="8.1" text-anchor="end" fill="#222" font-weight="normal" stroke="#222" stroke-width="0.14">10.0</text>
<line x1="46.6" y1="356.3" x2="46.6" y2="358.90000000000003" stroke="#000" stroke-width="1"/>
<text x="46.6" y="367.7" font-size="8.2" text-anchor="middle" fill="#222" font-weight="normal" stroke="#222" stroke-width="0.14">−2</text>
<line x1="77.3" y1="356.3" x2="77.3" y2="358.90000000000003" stroke="#000" stroke-width="1"/>
<text x="77.3" y="367.7" font-size="8.2" text-anchor="middle" fill="#222" font-weight="normal" stroke="#222" stroke-width="0.14">−1</text>
<line x1="108.0" y1="356.3" x2="108.0" y2="358.90000000000003" stroke="#000" stroke-width="1"/>
<text x="108.0" y="367.7" font-size="8.2" text-anchor="middle" fill="#222" font-weight="normal" stroke="#222" stroke-width="0.14">0</text>
<line x1="138.7" y1="356.3" x2="138.7" y2="358.90000000000003" stroke="#000" stroke-width="1"/>
<text x="138.7" y="367.7" font-size="8.2" text-anchor="middle" fill="#222" font-weight="normal" stroke="#222" stroke-width="0.14">1</text>
<line x1="169.4" y1="356.3" x2="169.4" y2="358.90000000000003" stroke="#000" stroke-width="1"/>
<text x="169.4" y="367.7" font-size="8.2" text-anchor="middle" fill="#222" font-weight="normal" stroke="#222" stroke-width="0.14">2</text>
<text x="65.4" y="378.4" font-size="8.8" text-anchor="middle" fill="#222" font-weight="normal" stroke="#222" stroke-width="0.14" textLength="20.8" lengthAdjust="spacingAndGlyphs">Young</text>
<text x="108.9" y="378.4" font-size="8.8" text-anchor="middle" fill="#222" font-weight="normal" stroke="#222" stroke-width="0.14" textLength="49.6" lengthAdjust="spacingAndGlyphs">accessible sites</text>
<text x="154.4" y="378.4" font-size="8.8" text-anchor="middle" fill="#222" font-weight="normal" stroke="#222" stroke-width="0.14" textLength="17.3" lengthAdjust="spacingAndGlyphs">Aged</text>
<line x1="50" y1="381.2" x2="76.8" y2="381.2" stroke="#000" stroke-width="1.1"/>
<path d="M47,381.2 L52.5,379 L52.5,383.4 Z" fill="#000"/>
<line x1="140.3" y1="381.2" x2="167" y2="381.2" stroke="#000" stroke-width="1.1"/>
<path d="M170,381.2 L164.5,379 L164.5,383.4 Z" fill="#000"/>
<text transform="translate(109.3,390.6) scale(0.84,1)" x="0" y="0" font-size="9.0" text-anchor="middle" fill="#222">log<tspan font-size="6.12" dy="1.98">2</tspan><tspan dy="-1.98">FC</tspan></text>
<text transform="translate(15.7,293.0) rotate(-90) scale(0.91,1)" font-size="8.6" text-anchor="middle" fill="#222">−log<tspan font-size="5.4" dy="0.8">10</tspan><tspan dy="-0.8">FDR</tspan></text>
<circle cx="435.2" cy="212.2" r="11.2" fill="#eaa0ac" stroke="#d0152f" stroke-width="1.6"/>
<circle cx="444.6" cy="212.2" r="11.2" fill="#b6e0b4" stroke="#2fb445" stroke-width="1.6"/>
<clipPath id="vclip"><circle cx="435.2" cy="212.2" r="11.2"/></clipPath>
<circle cx="444.6" cy="212.2" r="11.2" fill="#a6a07c" stroke="#2fb445" stroke-width="1.6" clip-path="url(#vclip)"/>
<circle cx="435.2" cy="212.2" r="11.2" fill="none" stroke="#8a3a2a" stroke-width="1.4" clip-path="url(#vclip2)"/>
<line x1="439.9" y1="214" x2="439.9" y2="228.5" stroke="#000" stroke-width="1.1"/>
<path d="M439.9,233 L436.9,227.5 L442.9,227.5 Z" fill="#000"/>
<text x="413.9" y="210.2" font-size="7.6" text-anchor="end" fill="#222" font-weight="normal" stroke="#222" stroke-width="0.05" textLength="45" lengthAdjust="spacingAndGlyphs">Aged-specific</text>
<text x="413.9" y="218.9" font-size="7.6" text-anchor="end" fill="#222" font-weight="normal" stroke="#222" stroke-width="0.05" textLength="50" lengthAdjust="spacingAndGlyphs">accessible sites</text>
<text x="463" y="215" font-size="7.8" text-anchor="start" fill="#222" font-weight="normal" stroke="#222" stroke-width="0.05" textLength="33.6" lengthAdjust="spacingAndGlyphs">Aging List</text>
<rect x="410.4" y="239.5" width="86.3" height="11.3" fill="#45526a" stroke="#27334a" stroke-width="0.9"/>
<text x="493.1" y="247.4" font-size="6.7" text-anchor="end" fill="#eceef2" font-weight="normal">40/1256</text>
<line x1="403.1" y1="245.1" x2="406.1" y2="245.1" stroke="#000" stroke-width="0.8"/>
<rect x="410.4" y="252.8" width="86.3" height="11.3" fill="#45526a" stroke="#27334a" stroke-width="0.9"/>
<text x="493.1" y="260.7" font-size="6.7" text-anchor="end" fill="#eceef2" font-weight="normal">32/834</text>
<line x1="403.1" y1="258.4" x2="406.1" y2="258.4" stroke="#000" stroke-width="0.8"/>
<rect x="410.4" y="266.1" width="71.3" height="11.3" fill="#45526a" stroke="#27334a" stroke-width="0.9"/>
<text x="478.1" y="273.9" font-size="6.7" text-anchor="end" fill="#eceef2" font-weight="normal">28/758</text>
<line x1="403.1" y1="271.6" x2="406.1" y2="271.6" stroke="#000" stroke-width="0.8"/>
<rect x="410.4" y="279.3" width="67.9" height="11.3" fill="#45526a" stroke="#27334a" stroke-width="0.9"/>
<text x="474.7" y="287.2" font-size="6.7" text-anchor="end" fill="#eceef2" font-weight="normal">29/840</text>
<line x1="403.1" y1="284.9" x2="406.1" y2="284.9" stroke="#000" stroke-width="0.8"/>
<rect x="410.4" y="292.6" width="66.1" height="11.3" fill="#45526a" stroke="#27334a" stroke-width="0.9"/>
<text x="472.9" y="300.4" font-size="6.7" text-anchor="end" fill="#eceef2" font-weight="normal">32/1006</text>
<line x1="403.1" y1="298.1" x2="406.1" y2="298.1" stroke="#000" stroke-width="0.8"/>
<rect x="410.4" y="305.8" width="63.6" height="11.3" fill="#45526a" stroke="#27334a" stroke-width="0.9"/>
<text x="470.4" y="313.7" font-size="6.7" text-anchor="end" fill="#eceef2" font-weight="normal">26/727</text>
<line x1="403.1" y1="311.4" x2="406.1" y2="311.4" stroke="#000" stroke-width="0.8"/>
<rect x="410.4" y="319.1" width="63.6" height="11.3" fill="#45526a" stroke="#27334a" stroke-width="0.9"/>
<text x="470.4" y="326.9" font-size="6.7" text-anchor="end" fill="#eceef2" font-weight="normal">25/682</text>
<line x1="403.1" y1="324.6" x2="406.1" y2="324.6" stroke="#000" stroke-width="0.8"/>
<rect x="410.4" y="332.3" width="61.9" height="11.3" fill="#45526a" stroke="#27334a" stroke-width="0.9"/>
<text x="468.7" y="340.2" font-size="6.7" text-anchor="end" fill="#eceef2" font-weight="normal">30/945</text>
<line x1="403.1" y1="337.9" x2="406.1" y2="337.9" stroke="#000" stroke-width="0.8"/>
<rect x="410.4" y="345.6" width="57.2" height="11.3" fill="#45526a" stroke="#27334a" stroke-width="0.9"/>
<text x="464.0" y="353.4" font-size="6.7" text-anchor="end" fill="#eceef2" font-weight="normal">21/541</text>
<line x1="403.1" y1="351.1" x2="406.1" y2="351.1" stroke="#000" stroke-width="0.8"/>
<rect x="410.4" y="358.8" width="52.4" height="11.3" fill="#45526a" stroke="#27334a" stroke-width="0.9"/>
<text x="459.2" y="366.7" font-size="6.7" text-anchor="end" fill="#eceef2" font-weight="normal">25/775</text>
<line x1="403.1" y1="364.4" x2="406.1" y2="364.4" stroke="#000" stroke-width="0.8"/>
<rect x="406.1" y="237.4" width="95.1" height="134.8" fill="none" stroke="#000" stroke-width="1.45"/>
<text x="399.9" y="247.0" font-size="6.6" text-anchor="end" fill="#222" font-weight="normal" stroke="#222" stroke-width="0.06" textLength="100.9" lengthAdjust="spacingAndGlyphs">Transcription regulator activity</text>
<text x="399.9" y="260.4" font-size="6.6" text-anchor="end" fill="#222" font-weight="normal" stroke="#222" stroke-width="0.06" textLength="211.4" lengthAdjust="spacingAndGlyphs">Transcription regulatory region sequence−specific DNA binding</text>
<text x="399.9" y="273.3" font-size="6.6" text-anchor="end" fill="#222" font-weight="normal" stroke="#222" stroke-width="0.06" textLength="167.6" lengthAdjust="spacingAndGlyphs">Sequence−specific double−stranded DNA binding</text>
<text x="399.9" y="286.6" font-size="6.6" text-anchor="end" fill="#222" font-weight="normal" stroke="#222" stroke-width="0.06" textLength="104.3" lengthAdjust="spacingAndGlyphs">Double−stranded DNA binding</text>
<text x="399.9" y="300.0" font-size="6.6" text-anchor="end" fill="#222" font-weight="normal" stroke="#222" stroke-width="0.06" textLength="107.8" lengthAdjust="spacingAndGlyphs">Sequence−specific DNA binding</text>
<text x="399.9" y="308.1" font-size="6.6" text-anchor="end" fill="#222" font-weight="normal" stroke="#222" stroke-width="0.06" textLength="138.9" lengthAdjust="spacingAndGlyphs">DNA−binding transcription factor activity,</text>
<text x="399.9" y="315.5" font-size="6.6" text-anchor="end" fill="#222" font-weight="normal" stroke="#222" stroke-width="0.06" textLength="91.1" lengthAdjust="spacingAndGlyphs">RNA polymerase II−specific</text>
<text x="399.9" y="322.6" font-size="6.6" text-anchor="end" fill="#222" font-weight="normal" stroke="#222" stroke-width="0.06" textLength="141.4" lengthAdjust="spacingAndGlyphs">RNA polymerase II transcription regulatory</text>
<text x="399.9" y="330.6" font-size="6.6" text-anchor="end" fill="#222" font-weight="normal" stroke="#222" stroke-width="0.06" textLength="130.3" lengthAdjust="spacingAndGlyphs">region sequence−specific DNA binding</text>
<text x="399.9" y="339.5" font-size="6.6" text-anchor="end" fill="#222" font-weight="normal" stroke="#222" stroke-width="0.06" textLength="136.5" lengthAdjust="spacingAndGlyphs">DNA−binding transcription factor activity</text>
<text x="399.9" y="352.5" font-size="6.6" text-anchor="end" fill="#222" font-weight="normal" stroke="#222" stroke-width="0.06" textLength="61.8" lengthAdjust="spacingAndGlyphs">Chromatin binding</text>
<text x="399.9" y="365.5" font-size="6.6" text-anchor="end" fill="#222" font-weight="normal" stroke="#222" stroke-width="0.06" textLength="104.4" lengthAdjust="spacingAndGlyphs">Protein domain specific binding</text>
<line x1="410.2" y1="372.2" x2="410.2" y2="374.7" stroke="#000" stroke-width="0.8"/>
<text x="410.2" y="381.9" font-size="8.0" text-anchor="middle" fill="#222" font-weight="normal" stroke="#222" stroke-width="0.14">0</text>
<line x1="431.6" y1="372.2" x2="431.6" y2="374.7" stroke="#000" stroke-width="0.8"/>
<text x="431.6" y="381.9" font-size="8.0" text-anchor="middle" fill="#222" font-weight="normal" stroke="#222" stroke-width="0.14">5</text>
<line x1="453.0" y1="372.2" x2="453.0" y2="374.7" stroke="#000" stroke-width="0.8"/>
<text x="453.0" y="381.9" font-size="8.0" text-anchor="middle" fill="#222" font-weight="normal" stroke="#222" stroke-width="0.14">10</text>
<line x1="474.4" y1="372.2" x2="474.4" y2="374.7" stroke="#000" stroke-width="0.8"/>
<text x="474.4" y="381.9" font-size="8.0" text-anchor="middle" fill="#222" font-weight="normal" stroke="#222" stroke-width="0.14">15</text>
<line x1="495.8" y1="372.2" x2="495.8" y2="374.7" stroke="#000" stroke-width="0.8"/>
<text x="495.8" y="381.9" font-size="8.0" text-anchor="middle" fill="#222" font-weight="normal" stroke="#222" stroke-width="0.14">20</text>
<text transform="translate(457.8,394.3) scale(0.82,1)" x="0" y="0" font-size="9.6" text-anchor="middle" fill="#222">log<tspan font-size="6.53" dy="2.11">2</tspan><tspan dy="-2.11">FC</tspan></text>
<text transform="translate(512.7,308.7) rotate(-90)" font-size="10.3" text-anchor="middle" fill="#7d7d7d" textLength="95.2" lengthAdjust="spacingAndGlyphs">Molecular function GO terms</text>
<rect x="0.5" y="0.5" width="519" height="400" fill="none" stroke="#000" stroke-width="1"/>
<rect x="1.5" y="1.5" width="517" height="398" fill="none" stroke="#999" stroke-width="1"/>
</svg>
</body></html>
